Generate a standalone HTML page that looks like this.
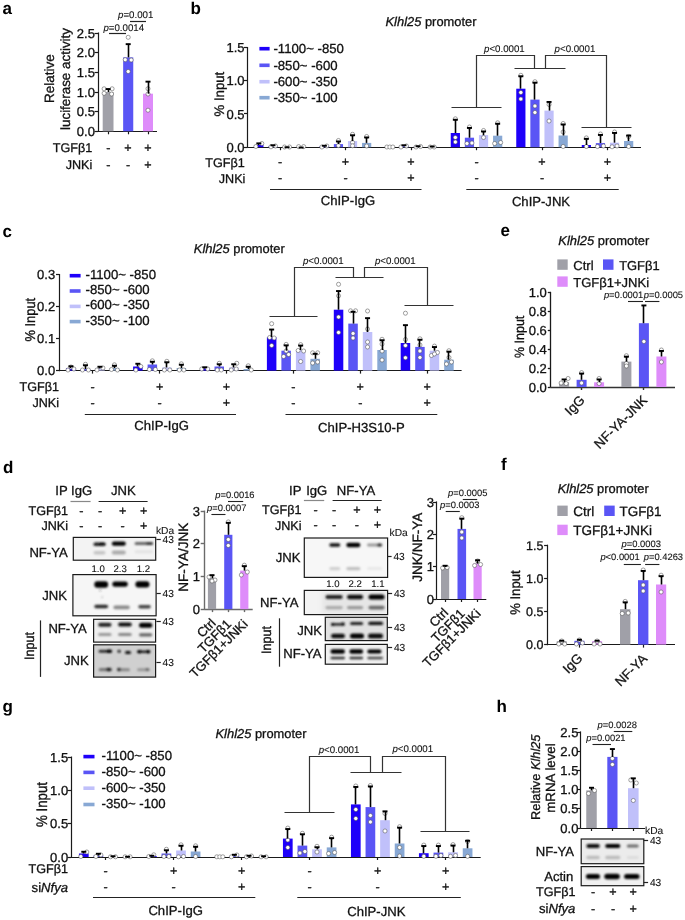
<!DOCTYPE html>
<html><head><meta charset="utf-8"><style>
html,body{margin:0;padding:0;background:#fff;}
svg{display:block;font-family:"Liberation Sans", sans-serif;will-change:transform;text-rendering:geometricPrecision;}
text{stroke:#111;stroke-width:0.3px;}
text.sm{stroke-width:0.1px;}
text.nb{stroke-width:0;}
</style></head><body>
<svg width="685" height="920" viewBox="0 0 685 920">
<defs><filter id="bl" x="-20%" y="-80%" width="140%" height="260%"><feGaussianBlur stdDeviation="0.8"/></filter><filter id="bl2" x="-20%" y="-20%" width="140%" height="140%"><feGaussianBlur stdDeviation="2.5"/></filter></defs>
<rect width="685" height="920" fill="#fff"/>
<text x="2.60" y="13.70" font-size="17.0" text-anchor="start" fill="#000" font-weight="bold" class="nb">a</text>
<line x1="98.50" y1="32.45" x2="98.50" y2="131.90" stroke="#1a1a1a" stroke-width="1.2"/>
<line x1="94.50" y1="131.50" x2="98.00" y2="131.50" stroke="#1a1a1a" stroke-width="1.2"/>
<text x="94.90" y="135.92" font-size="13.0" text-anchor="end" fill="#111" >0.0</text>
<line x1="94.50" y1="111.50" x2="98.00" y2="111.50" stroke="#1a1a1a" stroke-width="1.2"/>
<text x="94.90" y="116.27" font-size="13.0" text-anchor="end" fill="#111" >0.5</text>
<line x1="94.50" y1="92.50" x2="98.00" y2="92.50" stroke="#1a1a1a" stroke-width="1.2"/>
<text x="94.90" y="96.62" font-size="13.0" text-anchor="end" fill="#111" >1.0</text>
<line x1="94.50" y1="72.50" x2="98.00" y2="72.50" stroke="#1a1a1a" stroke-width="1.2"/>
<text x="94.90" y="76.97" font-size="13.0" text-anchor="end" fill="#111" >1.5</text>
<line x1="94.50" y1="52.50" x2="98.00" y2="52.50" stroke="#1a1a1a" stroke-width="1.2"/>
<text x="94.90" y="57.32" font-size="13.0" text-anchor="end" fill="#111" >2.0</text>
<line x1="94.50" y1="33.50" x2="98.00" y2="33.50" stroke="#1a1a1a" stroke-width="1.2"/>
<text x="94.90" y="37.67" font-size="13.0" text-anchor="end" fill="#111" >2.5</text>
<line x1="98.00" y1="131.50" x2="157.00" y2="131.50" stroke="#1a1a1a" stroke-width="1.2"/>
<line x1="108.50" y1="131.30" x2="108.50" y2="134.30" stroke="#1a1a1a" stroke-width="1.2"/>
<line x1="128.50" y1="131.30" x2="128.50" y2="134.30" stroke="#1a1a1a" stroke-width="1.2"/>
<line x1="148.50" y1="131.30" x2="148.50" y2="134.30" stroke="#1a1a1a" stroke-width="1.2"/>
<rect x="102.70" y="92.00" width="10.80" height="39.30" fill="#a0a0a8" />
<circle cx="104.10" cy="88.80" r="2.05" fill="#fff" stroke="#555" stroke-width="0.55"/>
<circle cx="112.10" cy="88.80" r="2.05" fill="#fff" stroke="#555" stroke-width="0.55"/>
<circle cx="104.10" cy="93.30" r="2.05" fill="#fff" stroke="#555" stroke-width="0.55"/>
<circle cx="111.60" cy="94.00" r="2.05" fill="#fff" stroke="#555" stroke-width="0.55"/>
<line x1="108.50" y1="92.00" x2="108.50" y2="88.80" stroke="#000" stroke-width="1.6"/>
<rect x="105.60" y="88.10" width="5.00" height="1.90" fill="#000" />
<rect x="123.15" y="57.40" width="10.10" height="73.90" fill="#5a55f5" />
<circle cx="128.20" cy="37.30" r="2.05" fill="#fff" stroke="#555" stroke-width="0.55"/>
<circle cx="125.20" cy="59.70" r="2.05" fill="#fff" stroke="#555" stroke-width="0.55"/>
<circle cx="131.20" cy="60.00" r="2.05" fill="#fff" stroke="#555" stroke-width="0.55"/>
<circle cx="128.20" cy="71.50" r="2.05" fill="#fff" stroke="#555" stroke-width="0.55"/>
<line x1="128.50" y1="57.40" x2="128.50" y2="43.90" stroke="#000" stroke-width="1.6"/>
<rect x="125.70" y="43.20" width="5.00" height="1.90" fill="#000" />
<rect x="143.00" y="93.70" width="10.00" height="37.60" fill="#de8cfa" />
<circle cx="148.00" cy="88.70" r="2.05" fill="#fff" stroke="#555" stroke-width="0.55"/>
<circle cx="148.00" cy="94.00" r="2.05" fill="#fff" stroke="#555" stroke-width="0.55"/>
<circle cx="148.00" cy="110.20" r="2.05" fill="#fff" stroke="#555" stroke-width="0.55"/>
<line x1="148.50" y1="93.70" x2="148.50" y2="81.40" stroke="#000" stroke-width="1.6"/>
<rect x="145.50" y="80.70" width="5.00" height="1.90" fill="#000" />
<line x1="109.00" y1="33.50" x2="126.00" y2="33.50" stroke="#222" stroke-width="1.2"/>
<line x1="130.00" y1="21.50" x2="146.00" y2="21.50" stroke="#222" stroke-width="1.2"/>
<text class="sm" x="103.40" y="31.20" font-size="9.7" text-anchor="start" fill="#111"><tspan font-style="italic">p</tspan>=0.0014</text>
<text class="sm" x="118.00" y="18.20" font-size="9.7" text-anchor="start" fill="#111"><tspan font-style="italic">p</tspan>=0.001</text>
<text x="54.40" y="78.70" font-size="13.5" text-anchor="middle" transform="rotate(-90 54.40 78.70)" fill="#111" >Relative</text>
<text x="69.80" y="79.00" font-size="13.4" text-anchor="middle" transform="rotate(-90 69.80 79.00)" fill="#111" >luciferase activity</text>
<text x="92.30" y="151.80" font-size="12.6" text-anchor="end" fill="#111" >TGFβ1</text>
<text x="92.30" y="169.30" font-size="12.6" text-anchor="end" fill="#111" >JNKi</text>
<text x="108.30" y="151.80" font-size="12.6" text-anchor="middle" fill="#111" >-</text>
<text x="128.00" y="151.80" font-size="12.6" text-anchor="middle" fill="#111" >+</text>
<text x="148.00" y="151.80" font-size="12.6" text-anchor="middle" fill="#111" >+</text>
<text x="108.30" y="169.30" font-size="12.6" text-anchor="middle" fill="#111" >-</text>
<text x="128.00" y="169.30" font-size="12.6" text-anchor="middle" fill="#111" >-</text>
<text x="148.00" y="169.30" font-size="12.6" text-anchor="middle" fill="#111" >+</text>
<text x="190.60" y="13.60" font-size="17.0" text-anchor="start" fill="#000" font-weight="bold" class="nb">b</text>
<line x1="247.50" y1="47.00" x2="247.50" y2="147.80" stroke="#1a1a1a" stroke-width="1.2"/>
<line x1="244.00" y1="147.50" x2="247.50" y2="147.50" stroke="#1a1a1a" stroke-width="1.2"/>
<text x="244.50" y="151.81" font-size="13.0" text-anchor="end" fill="#111" >0.0</text>
<line x1="244.00" y1="113.50" x2="247.50" y2="113.50" stroke="#1a1a1a" stroke-width="1.2"/>
<text x="244.50" y="118.61" font-size="13.0" text-anchor="end" fill="#111" >0.5</text>
<line x1="244.00" y1="80.50" x2="247.50" y2="80.50" stroke="#1a1a1a" stroke-width="1.2"/>
<text x="244.50" y="85.41" font-size="13.0" text-anchor="end" fill="#111" >1.0</text>
<line x1="244.00" y1="47.50" x2="247.50" y2="47.50" stroke="#1a1a1a" stroke-width="1.2"/>
<text x="244.50" y="52.21" font-size="13.0" text-anchor="end" fill="#111" >1.5</text>
<line x1="247.50" y1="147.50" x2="641.00" y2="147.50" stroke="#1a1a1a" stroke-width="1.2"/>
<line x1="280.50" y1="147.20" x2="280.50" y2="150.20" stroke="#1a1a1a" stroke-width="1.2"/>
<line x1="345.50" y1="147.20" x2="345.50" y2="150.20" stroke="#1a1a1a" stroke-width="1.2"/>
<line x1="411.50" y1="147.20" x2="411.50" y2="150.20" stroke="#1a1a1a" stroke-width="1.2"/>
<line x1="476.50" y1="147.20" x2="476.50" y2="150.20" stroke="#1a1a1a" stroke-width="1.2"/>
<line x1="542.50" y1="147.20" x2="542.50" y2="150.20" stroke="#1a1a1a" stroke-width="1.2"/>
<line x1="607.50" y1="147.20" x2="607.50" y2="150.20" stroke="#1a1a1a" stroke-width="1.2"/>
<text x="385.50" y="26.40" font-size="12.9" fill="#111"><tspan font-style="italic">Klhl25</tspan> promoter</text>
<rect x="259.40" y="46.90" width="10.20" height="3.60" fill="#1e00fa" />
<text x="273.40" y="52.95" font-size="13.2" text-anchor="start" fill="#111" >-1100~ -850</text>
<rect x="259.40" y="63.50" width="10.20" height="3.60" fill="#5a55f5" />
<text x="273.40" y="69.55" font-size="13.2" text-anchor="start" fill="#111" >-850~ -600</text>
<rect x="259.40" y="79.90" width="10.20" height="3.60" fill="#c0c0fa" />
<text x="273.40" y="85.95" font-size="13.2" text-anchor="start" fill="#111" >-600~ -350</text>
<rect x="259.40" y="95.90" width="10.20" height="3.60" fill="#88a8d4" />
<text x="273.40" y="101.95" font-size="13.2" text-anchor="start" fill="#111" >-350~ -100</text>
<text x="0" y="0" font-size="13.2" text-anchor="middle" transform="translate(223.70 94.10) rotate(-90) scale(1 1.046)" fill="#111">% Input</text>
<rect x="254.25" y="145.00" width="9.20" height="2.20" fill="#1e00fa" />
<circle cx="255.85" cy="146.50" r="2.05" fill="#fff" stroke="#555" stroke-width="0.55"/>
<circle cx="261.85" cy="143.50" r="2.05" fill="#fff" stroke="#555" stroke-width="0.55"/>
<line x1="258.50" y1="145.00" x2="258.50" y2="143.10" stroke="#000" stroke-width="1.6"/>
<rect x="256.35" y="142.40" width="5.00" height="1.90" fill="#000" />
<rect x="268.35" y="146.30" width="9.20" height="0.90" fill="#5a55f5" />
<circle cx="270.95" cy="146.80" r="2.05" fill="#fff" stroke="#555" stroke-width="0.55"/>
<circle cx="275.45" cy="146.00" r="2.05" fill="#fff" stroke="#555" stroke-width="0.55"/>
<line x1="272.50" y1="146.30" x2="272.50" y2="145.00" stroke="#000" stroke-width="1.6"/>
<rect x="270.45" y="144.30" width="5.00" height="1.90" fill="#000" />
<circle cx="284.55" cy="147.00" r="2.05" fill="#fff" stroke="#555" stroke-width="0.55"/>
<circle cx="289.55" cy="147.00" r="2.05" fill="#fff" stroke="#555" stroke-width="0.55"/>
<line x1="287.50" y1="147.20" x2="287.50" y2="147.00" stroke="#000" stroke-width="1.6"/>
<rect x="284.55" y="146.30" width="5.00" height="1.90" fill="#000" />
<circle cx="298.65" cy="146.60" r="2.05" fill="#fff" stroke="#555" stroke-width="0.55"/>
<circle cx="303.65" cy="146.60" r="2.05" fill="#fff" stroke="#555" stroke-width="0.55"/>
<line x1="301.50" y1="147.20" x2="301.50" y2="147.30" stroke="#000" stroke-width="1.6"/>
<rect x="298.65" y="146.60" width="5.00" height="1.90" fill="#000" />
<rect x="319.75" y="146.00" width="9.20" height="1.20" fill="#1e00fa" />
<circle cx="321.85" cy="147.00" r="2.05" fill="#fff" stroke="#555" stroke-width="0.55"/>
<circle cx="326.85" cy="146.00" r="2.05" fill="#fff" stroke="#555" stroke-width="0.55"/>
<line x1="324.50" y1="146.00" x2="324.50" y2="145.50" stroke="#000" stroke-width="1.6"/>
<rect x="321.85" y="144.80" width="5.00" height="1.90" fill="#000" />
<rect x="333.85" y="144.10" width="9.20" height="3.10" fill="#5a55f5" />
<circle cx="338.45" cy="140.50" r="2.05" fill="#fff" stroke="#555" stroke-width="0.55"/>
<circle cx="338.45" cy="145.60" r="2.05" fill="#fff" stroke="#555" stroke-width="0.55"/>
<line x1="338.50" y1="144.10" x2="338.50" y2="141.20" stroke="#000" stroke-width="1.6"/>
<rect x="335.95" y="140.50" width="5.00" height="1.90" fill="#000" />
<rect x="347.95" y="141.10" width="9.20" height="6.10" fill="#c0c0fa" />
<circle cx="352.55" cy="134.30" r="2.05" fill="#fff" stroke="#555" stroke-width="0.55"/>
<circle cx="352.55" cy="142.50" r="2.05" fill="#fff" stroke="#555" stroke-width="0.55"/>
<circle cx="352.55" cy="145.80" r="2.05" fill="#fff" stroke="#555" stroke-width="0.55"/>
<line x1="352.50" y1="141.10" x2="352.50" y2="135.00" stroke="#000" stroke-width="1.6"/>
<rect x="350.05" y="134.30" width="5.00" height="1.90" fill="#000" />
<rect x="362.05" y="142.90" width="9.20" height="4.30" fill="#88a8d4" />
<circle cx="366.65" cy="136.50" r="2.05" fill="#fff" stroke="#555" stroke-width="0.55"/>
<circle cx="366.65" cy="146.00" r="2.05" fill="#fff" stroke="#555" stroke-width="0.55"/>
<line x1="366.50" y1="142.90" x2="366.50" y2="137.20" stroke="#000" stroke-width="1.6"/>
<rect x="364.15" y="136.50" width="5.00" height="1.90" fill="#000" />
<circle cx="386.85" cy="147.00" r="2.05" fill="#fff" stroke="#555" stroke-width="0.55"/>
<circle cx="389.85" cy="147.00" r="2.05" fill="#fff" stroke="#555" stroke-width="0.55"/>
<circle cx="392.85" cy="147.00" r="2.05" fill="#fff" stroke="#555" stroke-width="0.55"/>
<rect x="399.35" y="146.00" width="9.20" height="1.20" fill="#5a55f5" />
<circle cx="400.95" cy="147.00" r="2.05" fill="#fff" stroke="#555" stroke-width="0.55"/>
<circle cx="406.45" cy="146.00" r="2.05" fill="#fff" stroke="#555" stroke-width="0.55"/>
<line x1="403.50" y1="146.00" x2="403.50" y2="145.00" stroke="#000" stroke-width="1.6"/>
<rect x="401.45" y="144.30" width="5.00" height="1.90" fill="#000" />
<rect x="413.45" y="146.50" width="9.20" height="0.70" fill="#c0c0fa" />
<circle cx="416.05" cy="147.00" r="2.05" fill="#fff" stroke="#555" stroke-width="0.55"/>
<circle cx="420.55" cy="146.50" r="2.05" fill="#fff" stroke="#555" stroke-width="0.55"/>
<line x1="418.50" y1="146.50" x2="418.50" y2="146.00" stroke="#000" stroke-width="1.6"/>
<rect x="415.55" y="145.30" width="5.00" height="1.90" fill="#000" />
<rect x="427.55" y="146.60" width="9.20" height="0.60" fill="#88a8d4" />
<circle cx="430.15" cy="147.00" r="2.05" fill="#fff" stroke="#555" stroke-width="0.55"/>
<circle cx="434.15" cy="147.00" r="2.05" fill="#fff" stroke="#555" stroke-width="0.55"/>
<line x1="432.50" y1="146.60" x2="432.50" y2="146.30" stroke="#000" stroke-width="1.6"/>
<rect x="429.65" y="145.60" width="5.00" height="1.90" fill="#000" />
<rect x="450.75" y="133.00" width="9.20" height="14.20" fill="#1e00fa" />
<circle cx="455.35" cy="118.80" r="2.05" fill="#fff" stroke="#555" stroke-width="0.55"/>
<circle cx="455.35" cy="137.50" r="2.05" fill="#fff" stroke="#555" stroke-width="0.55"/>
<circle cx="455.35" cy="142.00" r="2.05" fill="#fff" stroke="#555" stroke-width="0.55"/>
<line x1="455.50" y1="133.00" x2="455.50" y2="119.50" stroke="#000" stroke-width="1.6"/>
<rect x="452.85" y="118.80" width="5.00" height="1.90" fill="#000" />
<rect x="464.85" y="137.70" width="9.20" height="9.50" fill="#5a55f5" />
<circle cx="469.45" cy="127.00" r="2.05" fill="#fff" stroke="#555" stroke-width="0.55"/>
<circle cx="466.95" cy="143.50" r="2.05" fill="#fff" stroke="#555" stroke-width="0.55"/>
<circle cx="471.95" cy="143.00" r="2.05" fill="#fff" stroke="#555" stroke-width="0.55"/>
<line x1="469.50" y1="137.70" x2="469.50" y2="127.70" stroke="#000" stroke-width="1.6"/>
<rect x="466.95" y="127.00" width="5.00" height="1.90" fill="#000" />
<rect x="478.95" y="135.10" width="9.20" height="12.10" fill="#c0c0fa" />
<circle cx="483.55" cy="130.50" r="2.05" fill="#fff" stroke="#555" stroke-width="0.55"/>
<circle cx="483.55" cy="137.50" r="2.05" fill="#fff" stroke="#555" stroke-width="0.55"/>
<line x1="483.50" y1="135.10" x2="483.50" y2="131.20" stroke="#000" stroke-width="1.6"/>
<rect x="481.05" y="130.50" width="5.00" height="1.90" fill="#000" />
<rect x="493.05" y="135.70" width="9.20" height="11.50" fill="#88a8d4" />
<circle cx="497.65" cy="122.80" r="2.05" fill="#fff" stroke="#555" stroke-width="0.55"/>
<circle cx="494.65" cy="143.50" r="2.05" fill="#fff" stroke="#555" stroke-width="0.55"/>
<circle cx="500.65" cy="142.50" r="2.05" fill="#fff" stroke="#555" stroke-width="0.55"/>
<line x1="497.50" y1="135.70" x2="497.50" y2="123.50" stroke="#000" stroke-width="1.6"/>
<rect x="495.15" y="122.80" width="5.00" height="1.90" fill="#000" />
<rect x="516.25" y="88.70" width="9.20" height="58.50" fill="#1e00fa" />
<circle cx="520.85" cy="75.30" r="2.05" fill="#fff" stroke="#555" stroke-width="0.55"/>
<circle cx="520.85" cy="92.50" r="2.05" fill="#fff" stroke="#555" stroke-width="0.55"/>
<circle cx="520.85" cy="99.00" r="2.05" fill="#fff" stroke="#555" stroke-width="0.55"/>
<line x1="520.50" y1="88.70" x2="520.50" y2="76.00" stroke="#000" stroke-width="1.6"/>
<rect x="518.35" y="75.30" width="5.00" height="1.90" fill="#000" />
<rect x="530.35" y="99.60" width="9.20" height="47.60" fill="#5a55f5" />
<circle cx="534.95" cy="81.70" r="2.05" fill="#fff" stroke="#555" stroke-width="0.55"/>
<circle cx="534.95" cy="106.00" r="2.05" fill="#fff" stroke="#555" stroke-width="0.55"/>
<circle cx="534.95" cy="112.50" r="2.05" fill="#fff" stroke="#555" stroke-width="0.55"/>
<line x1="534.50" y1="99.60" x2="534.50" y2="82.40" stroke="#000" stroke-width="1.6"/>
<rect x="532.45" y="81.70" width="5.00" height="1.90" fill="#000" />
<rect x="544.45" y="110.60" width="9.20" height="36.60" fill="#c0c0fa" />
<circle cx="549.05" cy="104.50" r="2.05" fill="#fff" stroke="#555" stroke-width="0.55"/>
<circle cx="549.05" cy="121.00" r="2.05" fill="#fff" stroke="#555" stroke-width="0.55"/>
<line x1="549.50" y1="110.60" x2="549.50" y2="101.70" stroke="#000" stroke-width="1.6"/>
<rect x="546.55" y="101.00" width="5.00" height="1.90" fill="#000" />
<rect x="558.55" y="135.50" width="9.20" height="11.70" fill="#88a8d4" />
<circle cx="563.15" cy="123.50" r="2.05" fill="#fff" stroke="#555" stroke-width="0.55"/>
<circle cx="563.15" cy="132.00" r="2.05" fill="#fff" stroke="#555" stroke-width="0.55"/>
<circle cx="563.15" cy="146.50" r="2.05" fill="#fff" stroke="#555" stroke-width="0.55"/>
<line x1="563.50" y1="135.50" x2="563.50" y2="124.20" stroke="#000" stroke-width="1.6"/>
<rect x="560.65" y="123.50" width="5.00" height="1.90" fill="#000" />
<rect x="581.75" y="145.00" width="9.20" height="2.20" fill="#1e00fa" />
<circle cx="586.35" cy="137.90" r="2.05" fill="#fff" stroke="#555" stroke-width="0.55"/>
<circle cx="586.35" cy="146.50" r="2.05" fill="#fff" stroke="#555" stroke-width="0.55"/>
<line x1="586.50" y1="145.00" x2="586.50" y2="138.60" stroke="#000" stroke-width="1.6"/>
<rect x="583.85" y="137.90" width="5.00" height="1.90" fill="#000" />
<rect x="595.85" y="143.10" width="9.20" height="4.10" fill="#5a55f5" />
<circle cx="600.45" cy="134.00" r="2.05" fill="#fff" stroke="#555" stroke-width="0.55"/>
<circle cx="597.45" cy="146.50" r="2.05" fill="#fff" stroke="#555" stroke-width="0.55"/>
<circle cx="603.45" cy="146.00" r="2.05" fill="#fff" stroke="#555" stroke-width="0.55"/>
<line x1="600.50" y1="143.10" x2="600.50" y2="134.70" stroke="#000" stroke-width="1.6"/>
<rect x="597.95" y="134.00" width="5.00" height="1.90" fill="#000" />
<rect x="609.95" y="142.70" width="9.20" height="4.50" fill="#c0c0fa" />
<circle cx="614.55" cy="132.00" r="2.05" fill="#fff" stroke="#555" stroke-width="0.55"/>
<circle cx="612.05" cy="146.80" r="2.05" fill="#fff" stroke="#555" stroke-width="0.55"/>
<circle cx="617.05" cy="146.00" r="2.05" fill="#fff" stroke="#555" stroke-width="0.55"/>
<line x1="614.50" y1="142.70" x2="614.50" y2="132.70" stroke="#000" stroke-width="1.6"/>
<rect x="612.05" y="132.00" width="5.00" height="1.90" fill="#000" />
<rect x="624.05" y="141.00" width="9.20" height="6.20" fill="#88a8d4" />
<circle cx="628.65" cy="136.50" r="2.05" fill="#fff" stroke="#555" stroke-width="0.55"/>
<circle cx="628.65" cy="146.50" r="2.05" fill="#fff" stroke="#555" stroke-width="0.55"/>
<line x1="628.50" y1="141.00" x2="628.50" y2="135.30" stroke="#000" stroke-width="1.6"/>
<rect x="626.15" y="134.60" width="5.00" height="1.90" fill="#000" />
<polyline points="451.50,107.50 501.50,107.50" fill="none" stroke="#333" stroke-width="1.2"/>
<polyline points="476.50,107.50 476.50,55.50 534.50,55.50 534.50,68.50" fill="none" stroke="#333" stroke-width="1.2"/>
<polyline points="514.50,68.50 565.50,68.50" fill="none" stroke="#333" stroke-width="1.2"/>
<polyline points="545.50,68.50 545.50,55.50 606.50,55.50 606.50,127.50" fill="none" stroke="#333" stroke-width="1.2"/>
<polyline points="581.50,127.50 631.50,127.50" fill="none" stroke="#333" stroke-width="1.2"/>
<text class="sm" x="484.00" y="51.60" font-size="9.7" text-anchor="start" fill="#111"><tspan font-style="italic">p</tspan>&lt;0.0001</text>
<text class="sm" x="554.60" y="51.60" font-size="9.7" text-anchor="start" fill="#111"><tspan font-style="italic">p</tspan>&lt;0.0001</text>
<text x="244.80" y="166.80" font-size="12.6" text-anchor="end" fill="#111" >TGFβ1</text>
<text x="245.40" y="182.80" font-size="12.6" text-anchor="end" fill="#111" >JNKi</text>
<text x="280.00" y="165.70" font-size="12.6" text-anchor="middle" fill="#111" >-</text>
<text x="280.00" y="181.70" font-size="12.6" text-anchor="middle" fill="#111" >-</text>
<text x="345.50" y="165.70" font-size="12.6" text-anchor="middle" fill="#111" >+</text>
<text x="345.50" y="181.70" font-size="12.6" text-anchor="middle" fill="#111" >-</text>
<text x="411.00" y="165.70" font-size="12.6" text-anchor="middle" fill="#111" >+</text>
<text x="411.00" y="181.70" font-size="12.6" text-anchor="middle" fill="#111" >+</text>
<text x="476.50" y="165.70" font-size="12.6" text-anchor="middle" fill="#111" >-</text>
<text x="476.50" y="181.70" font-size="12.6" text-anchor="middle" fill="#111" >-</text>
<text x="542.00" y="165.70" font-size="12.6" text-anchor="middle" fill="#111" >+</text>
<text x="542.00" y="181.70" font-size="12.6" text-anchor="middle" fill="#111" >-</text>
<text x="607.50" y="165.70" font-size="12.6" text-anchor="middle" fill="#111" >+</text>
<text x="607.50" y="181.70" font-size="12.6" text-anchor="middle" fill="#111" >+</text>
<line x1="270.00" y1="189.50" x2="421.50" y2="189.50" stroke="#222" stroke-width="1.2"/>
<line x1="466.30" y1="189.50" x2="618.70" y2="189.50" stroke="#222" stroke-width="1.2"/>
<text x="348.00" y="205.30" font-size="13.1" text-anchor="middle" fill="#111" >ChIP-IgG</text>
<text x="541.00" y="205.50" font-size="13.1" text-anchor="middle" fill="#111" >ChIP-JNK</text>
<text x="2.60" y="236.60" font-size="17.0" text-anchor="start" fill="#000" font-weight="bold" class="nb">c</text>
<line x1="59.50" y1="274.00" x2="59.50" y2="371.20" stroke="#1a1a1a" stroke-width="1.2"/>
<line x1="56.00" y1="370.50" x2="59.50" y2="370.50" stroke="#1a1a1a" stroke-width="1.2"/>
<text x="55.20" y="375.22" font-size="13.0" text-anchor="end" fill="#111" >0.0</text>
<line x1="56.00" y1="338.50" x2="59.50" y2="338.50" stroke="#1a1a1a" stroke-width="1.2"/>
<text x="55.20" y="343.22" font-size="13.0" text-anchor="end" fill="#111" >0.1</text>
<line x1="56.00" y1="306.50" x2="59.50" y2="306.50" stroke="#1a1a1a" stroke-width="1.2"/>
<text x="55.20" y="311.22" font-size="13.0" text-anchor="end" fill="#111" >0.2</text>
<line x1="56.00" y1="274.50" x2="59.50" y2="274.50" stroke="#1a1a1a" stroke-width="1.2"/>
<text x="55.20" y="279.22" font-size="13.0" text-anchor="end" fill="#111" >0.3</text>
<line x1="59.50" y1="370.50" x2="461.60" y2="370.50" stroke="#1a1a1a" stroke-width="1.2"/>
<line x1="92.50" y1="370.60" x2="92.50" y2="373.60" stroke="#1a1a1a" stroke-width="1.2"/>
<line x1="159.50" y1="370.60" x2="159.50" y2="373.60" stroke="#1a1a1a" stroke-width="1.2"/>
<line x1="226.50" y1="370.60" x2="226.50" y2="373.60" stroke="#1a1a1a" stroke-width="1.2"/>
<line x1="293.50" y1="370.60" x2="293.50" y2="373.60" stroke="#1a1a1a" stroke-width="1.2"/>
<line x1="360.50" y1="370.60" x2="360.50" y2="373.60" stroke="#1a1a1a" stroke-width="1.2"/>
<line x1="427.50" y1="370.60" x2="427.50" y2="373.60" stroke="#1a1a1a" stroke-width="1.2"/>
<text x="193.80" y="253.00" font-size="12.9" fill="#111"><tspan font-style="italic">Klhl25</tspan> promoter</text>
<rect x="69.70" y="273.90" width="10.90" height="3.60" fill="#1e00fa" />
<text x="85.50" y="278.65" font-size="13.2" text-anchor="start" fill="#111" >-1100~ -850</text>
<rect x="69.70" y="289.20" width="10.90" height="3.60" fill="#5a55f5" />
<text x="85.50" y="293.95" font-size="13.2" text-anchor="start" fill="#111" >-850~ -600</text>
<rect x="69.70" y="304.60" width="10.90" height="3.60" fill="#c0c0fa" />
<text x="85.50" y="309.35" font-size="13.2" text-anchor="start" fill="#111" >-600~ -350</text>
<rect x="69.70" y="319.80" width="10.90" height="3.60" fill="#88a8d4" />
<text x="85.50" y="324.55" font-size="13.2" text-anchor="start" fill="#111" >-350~ -100</text>
<text x="0" y="0" font-size="12.9" text-anchor="middle" transform="translate(34.90 319.70) rotate(-90) scale(1 1.100)" fill="#111">% Input</text>
<rect x="66.20" y="368.00" width="9.50" height="2.60" fill="#1e00fa" />
<circle cx="70.95" cy="367.00" r="2.05" fill="#fff" stroke="#555" stroke-width="0.55"/>
<circle cx="67.95" cy="370.00" r="2.05" fill="#fff" stroke="#555" stroke-width="0.55"/>
<circle cx="73.95" cy="369.00" r="2.05" fill="#fff" stroke="#555" stroke-width="0.55"/>
<line x1="70.50" y1="368.00" x2="70.50" y2="366.00" stroke="#000" stroke-width="1.6"/>
<rect x="68.45" y="365.30" width="5.00" height="1.90" fill="#000" />
<rect x="80.70" y="369.00" width="9.50" height="1.60" fill="#5a55f5" />
<circle cx="85.45" cy="364.30" r="2.05" fill="#fff" stroke="#555" stroke-width="0.55"/>
<circle cx="82.45" cy="370.00" r="2.05" fill="#fff" stroke="#555" stroke-width="0.55"/>
<circle cx="88.45" cy="370.00" r="2.05" fill="#fff" stroke="#555" stroke-width="0.55"/>
<line x1="85.50" y1="369.00" x2="85.50" y2="365.00" stroke="#000" stroke-width="1.6"/>
<rect x="82.95" y="364.30" width="5.00" height="1.90" fill="#000" />
<rect x="95.20" y="368.50" width="9.50" height="2.10" fill="#c0c0fa" />
<circle cx="96.95" cy="370.00" r="2.05" fill="#fff" stroke="#555" stroke-width="0.55"/>
<circle cx="102.95" cy="368.00" r="2.05" fill="#fff" stroke="#555" stroke-width="0.55"/>
<line x1="99.50" y1="368.50" x2="99.50" y2="366.50" stroke="#000" stroke-width="1.6"/>
<rect x="97.45" y="365.80" width="5.00" height="1.90" fill="#000" />
<rect x="109.70" y="368.00" width="9.50" height="2.60" fill="#88a8d4" />
<circle cx="114.45" cy="364.80" r="2.05" fill="#fff" stroke="#555" stroke-width="0.55"/>
<circle cx="111.45" cy="369.50" r="2.05" fill="#fff" stroke="#555" stroke-width="0.55"/>
<circle cx="117.45" cy="370.00" r="2.05" fill="#fff" stroke="#555" stroke-width="0.55"/>
<line x1="114.50" y1="368.00" x2="114.50" y2="365.50" stroke="#000" stroke-width="1.6"/>
<rect x="111.95" y="364.80" width="5.00" height="1.90" fill="#000" />
<rect x="133.10" y="366.50" width="9.50" height="4.10" fill="#1e00fa" />
<circle cx="135.85" cy="370.00" r="2.05" fill="#fff" stroke="#555" stroke-width="0.55"/>
<circle cx="140.85" cy="366.50" r="2.05" fill="#fff" stroke="#555" stroke-width="0.55"/>
<line x1="137.50" y1="366.50" x2="137.50" y2="363.50" stroke="#000" stroke-width="1.6"/>
<rect x="135.35" y="362.80" width="5.00" height="1.90" fill="#000" />
<rect x="147.60" y="364.50" width="9.50" height="6.10" fill="#5a55f5" />
<circle cx="152.35" cy="360.80" r="2.05" fill="#fff" stroke="#555" stroke-width="0.55"/>
<circle cx="149.35" cy="369.50" r="2.05" fill="#fff" stroke="#555" stroke-width="0.55"/>
<circle cx="155.35" cy="369.50" r="2.05" fill="#fff" stroke="#555" stroke-width="0.55"/>
<line x1="152.50" y1="364.50" x2="152.50" y2="361.50" stroke="#000" stroke-width="1.6"/>
<rect x="149.85" y="360.80" width="5.00" height="1.90" fill="#000" />
<rect x="162.10" y="367.50" width="9.50" height="3.10" fill="#c0c0fa" />
<circle cx="166.85" cy="361.30" r="2.05" fill="#fff" stroke="#555" stroke-width="0.55"/>
<circle cx="164.35" cy="370.00" r="2.05" fill="#fff" stroke="#555" stroke-width="0.55"/>
<circle cx="169.85" cy="370.00" r="2.05" fill="#fff" stroke="#555" stroke-width="0.55"/>
<line x1="166.50" y1="367.50" x2="166.50" y2="362.00" stroke="#000" stroke-width="1.6"/>
<rect x="164.35" y="361.30" width="5.00" height="1.90" fill="#000" />
<rect x="176.60" y="368.00" width="9.50" height="2.60" fill="#88a8d4" />
<circle cx="181.35" cy="363.80" r="2.05" fill="#fff" stroke="#555" stroke-width="0.55"/>
<circle cx="179.35" cy="370.00" r="2.05" fill="#fff" stroke="#555" stroke-width="0.55"/>
<circle cx="183.85" cy="370.00" r="2.05" fill="#fff" stroke="#555" stroke-width="0.55"/>
<line x1="181.50" y1="368.00" x2="181.50" y2="364.50" stroke="#000" stroke-width="1.6"/>
<rect x="178.85" y="363.80" width="5.00" height="1.90" fill="#000" />
<rect x="200.00" y="368.50" width="9.50" height="2.10" fill="#1e00fa" />
<circle cx="201.75" cy="369.00" r="2.05" fill="#fff" stroke="#555" stroke-width="0.55"/>
<circle cx="207.75" cy="369.00" r="2.05" fill="#fff" stroke="#555" stroke-width="0.55"/>
<line x1="204.50" y1="368.50" x2="204.50" y2="367.00" stroke="#000" stroke-width="1.6"/>
<rect x="202.25" y="366.30" width="5.00" height="1.90" fill="#000" />
<rect x="214.50" y="366.50" width="9.50" height="4.10" fill="#5a55f5" />
<circle cx="219.25" cy="363.30" r="2.05" fill="#fff" stroke="#555" stroke-width="0.55"/>
<circle cx="217.25" cy="370.00" r="2.05" fill="#fff" stroke="#555" stroke-width="0.55"/>
<circle cx="221.25" cy="370.00" r="2.05" fill="#fff" stroke="#555" stroke-width="0.55"/>
<line x1="219.50" y1="366.50" x2="219.50" y2="364.00" stroke="#000" stroke-width="1.6"/>
<rect x="216.75" y="363.30" width="5.00" height="1.90" fill="#000" />
<rect x="229.00" y="367.50" width="9.50" height="3.10" fill="#c0c0fa" />
<circle cx="236.75" cy="363.30" r="2.05" fill="#fff" stroke="#555" stroke-width="0.55"/>
<circle cx="231.25" cy="370.00" r="2.05" fill="#fff" stroke="#555" stroke-width="0.55"/>
<circle cx="236.25" cy="369.00" r="2.05" fill="#fff" stroke="#555" stroke-width="0.55"/>
<line x1="233.50" y1="367.50" x2="233.50" y2="364.00" stroke="#000" stroke-width="1.6"/>
<rect x="231.25" y="363.30" width="5.00" height="1.90" fill="#000" />
<rect x="243.50" y="369.00" width="9.50" height="1.60" fill="#88a8d4" />
<circle cx="248.25" cy="365.80" r="2.05" fill="#fff" stroke="#555" stroke-width="0.55"/>
<circle cx="251.25" cy="370.00" r="2.05" fill="#fff" stroke="#555" stroke-width="0.55"/>
<line x1="248.50" y1="369.00" x2="248.50" y2="366.50" stroke="#000" stroke-width="1.6"/>
<rect x="245.75" y="365.80" width="5.00" height="1.90" fill="#000" />
<rect x="266.90" y="337.20" width="9.50" height="33.40" fill="#1e00fa" />
<circle cx="271.65" cy="323.70" r="2.05" fill="#fff" stroke="#555" stroke-width="0.55"/>
<circle cx="269.65" cy="337.50" r="2.05" fill="#fff" stroke="#555" stroke-width="0.55"/>
<circle cx="274.15" cy="338.00" r="2.05" fill="#fff" stroke="#555" stroke-width="0.55"/>
<circle cx="271.65" cy="345.50" r="2.05" fill="#fff" stroke="#555" stroke-width="0.55"/>
<line x1="271.50" y1="337.20" x2="271.50" y2="329.30" stroke="#000" stroke-width="1.6"/>
<rect x="269.15" y="328.60" width="5.00" height="1.90" fill="#000" />
<rect x="281.40" y="350.70" width="9.50" height="19.90" fill="#5a55f5" />
<circle cx="286.15" cy="344.40" r="2.05" fill="#fff" stroke="#555" stroke-width="0.55"/>
<circle cx="283.65" cy="356.50" r="2.05" fill="#fff" stroke="#555" stroke-width="0.55"/>
<circle cx="288.65" cy="354.50" r="2.05" fill="#fff" stroke="#555" stroke-width="0.55"/>
<circle cx="286.15" cy="351.00" r="2.05" fill="#fff" stroke="#555" stroke-width="0.55"/>
<line x1="286.50" y1="350.70" x2="286.50" y2="345.10" stroke="#000" stroke-width="1.6"/>
<rect x="283.65" y="344.40" width="5.00" height="1.90" fill="#000" />
<rect x="295.90" y="350.00" width="9.50" height="20.60" fill="#c0c0fa" />
<circle cx="300.65" cy="344.60" r="2.05" fill="#fff" stroke="#555" stroke-width="0.55"/>
<circle cx="298.15" cy="350.50" r="2.05" fill="#fff" stroke="#555" stroke-width="0.55"/>
<circle cx="303.65" cy="351.00" r="2.05" fill="#fff" stroke="#555" stroke-width="0.55"/>
<circle cx="300.65" cy="361.50" r="2.05" fill="#fff" stroke="#555" stroke-width="0.55"/>
<line x1="300.50" y1="350.00" x2="300.50" y2="345.30" stroke="#000" stroke-width="1.6"/>
<rect x="298.15" y="344.60" width="5.00" height="1.90" fill="#000" />
<rect x="310.40" y="358.80" width="9.50" height="11.80" fill="#88a8d4" />
<circle cx="312.65" cy="352.80" r="2.05" fill="#fff" stroke="#555" stroke-width="0.55"/>
<circle cx="317.65" cy="352.80" r="2.05" fill="#fff" stroke="#555" stroke-width="0.55"/>
<circle cx="312.65" cy="363.00" r="2.05" fill="#fff" stroke="#555" stroke-width="0.55"/>
<circle cx="317.65" cy="362.00" r="2.05" fill="#fff" stroke="#555" stroke-width="0.55"/>
<line x1="315.50" y1="358.80" x2="315.50" y2="353.50" stroke="#000" stroke-width="1.6"/>
<rect x="312.65" y="352.80" width="5.00" height="1.90" fill="#000" />
<rect x="333.80" y="309.70" width="9.50" height="60.90" fill="#1e00fa" />
<circle cx="338.55" cy="284.30" r="2.05" fill="#fff" stroke="#555" stroke-width="0.55"/>
<circle cx="338.55" cy="295.80" r="2.05" fill="#fff" stroke="#555" stroke-width="0.55"/>
<circle cx="338.55" cy="317.00" r="2.05" fill="#fff" stroke="#555" stroke-width="0.55"/>
<circle cx="338.55" cy="332.50" r="2.05" fill="#fff" stroke="#555" stroke-width="0.55"/>
<line x1="338.50" y1="309.70" x2="338.50" y2="290.80" stroke="#000" stroke-width="1.6"/>
<rect x="336.05" y="290.10" width="5.00" height="1.90" fill="#000" />
<rect x="348.30" y="323.60" width="9.50" height="47.00" fill="#5a55f5" />
<circle cx="350.55" cy="310.80" r="2.05" fill="#fff" stroke="#555" stroke-width="0.55"/>
<circle cx="355.55" cy="310.80" r="2.05" fill="#fff" stroke="#555" stroke-width="0.55"/>
<circle cx="353.05" cy="333.50" r="2.05" fill="#fff" stroke="#555" stroke-width="0.55"/>
<circle cx="353.05" cy="338.00" r="2.05" fill="#fff" stroke="#555" stroke-width="0.55"/>
<line x1="353.50" y1="323.60" x2="353.50" y2="311.50" stroke="#000" stroke-width="1.6"/>
<rect x="350.55" y="310.80" width="5.00" height="1.90" fill="#000" />
<rect x="362.80" y="332.00" width="9.50" height="38.60" fill="#c0c0fa" />
<circle cx="367.55" cy="311.00" r="2.05" fill="#fff" stroke="#555" stroke-width="0.55"/>
<circle cx="367.55" cy="329.00" r="2.05" fill="#fff" stroke="#555" stroke-width="0.55"/>
<circle cx="367.55" cy="342.00" r="2.05" fill="#fff" stroke="#555" stroke-width="0.55"/>
<circle cx="367.55" cy="347.00" r="2.05" fill="#fff" stroke="#555" stroke-width="0.55"/>
<line x1="367.50" y1="332.00" x2="367.50" y2="317.90" stroke="#000" stroke-width="1.6"/>
<rect x="365.05" y="317.20" width="5.00" height="1.90" fill="#000" />
<rect x="377.30" y="350.00" width="9.50" height="20.60" fill="#88a8d4" />
<circle cx="382.05" cy="339.30" r="2.05" fill="#fff" stroke="#555" stroke-width="0.55"/>
<circle cx="382.05" cy="344.00" r="2.05" fill="#fff" stroke="#555" stroke-width="0.55"/>
<circle cx="382.05" cy="351.00" r="2.05" fill="#fff" stroke="#555" stroke-width="0.55"/>
<circle cx="382.05" cy="360.00" r="2.05" fill="#fff" stroke="#555" stroke-width="0.55"/>
<line x1="382.50" y1="350.00" x2="382.50" y2="340.00" stroke="#000" stroke-width="1.6"/>
<rect x="379.55" y="339.30" width="5.00" height="1.90" fill="#000" />
<rect x="400.70" y="343.00" width="9.50" height="27.60" fill="#1e00fa" />
<circle cx="405.45" cy="313.20" r="2.05" fill="#fff" stroke="#555" stroke-width="0.55"/>
<circle cx="405.45" cy="339.50" r="2.05" fill="#fff" stroke="#555" stroke-width="0.55"/>
<circle cx="405.45" cy="345.50" r="2.05" fill="#fff" stroke="#555" stroke-width="0.55"/>
<circle cx="405.45" cy="357.80" r="2.05" fill="#fff" stroke="#555" stroke-width="0.55"/>
<line x1="405.50" y1="343.00" x2="405.50" y2="324.90" stroke="#000" stroke-width="1.6"/>
<rect x="402.95" y="324.20" width="5.00" height="1.90" fill="#000" />
<rect x="415.20" y="346.90" width="9.50" height="23.70" fill="#5a55f5" />
<circle cx="419.95" cy="338.80" r="2.05" fill="#fff" stroke="#555" stroke-width="0.55"/>
<circle cx="419.95" cy="345.00" r="2.05" fill="#fff" stroke="#555" stroke-width="0.55"/>
<circle cx="419.95" cy="351.00" r="2.05" fill="#fff" stroke="#555" stroke-width="0.55"/>
<circle cx="419.95" cy="357.50" r="2.05" fill="#fff" stroke="#555" stroke-width="0.55"/>
<line x1="419.50" y1="346.90" x2="419.50" y2="339.50" stroke="#000" stroke-width="1.6"/>
<rect x="417.45" y="338.80" width="5.00" height="1.90" fill="#000" />
<rect x="429.70" y="350.70" width="9.50" height="19.90" fill="#c0c0fa" />
<circle cx="434.45" cy="346.10" r="2.05" fill="#fff" stroke="#555" stroke-width="0.55"/>
<circle cx="431.45" cy="355.50" r="2.05" fill="#fff" stroke="#555" stroke-width="0.55"/>
<circle cx="437.45" cy="352.50" r="2.05" fill="#fff" stroke="#555" stroke-width="0.55"/>
<circle cx="434.45" cy="354.00" r="2.05" fill="#fff" stroke="#555" stroke-width="0.55"/>
<line x1="434.50" y1="350.70" x2="434.50" y2="346.80" stroke="#000" stroke-width="1.6"/>
<rect x="431.95" y="346.10" width="5.00" height="1.90" fill="#000" />
<rect x="444.20" y="359.70" width="9.50" height="10.90" fill="#88a8d4" />
<circle cx="448.95" cy="350.70" r="2.05" fill="#fff" stroke="#555" stroke-width="0.55"/>
<circle cx="448.95" cy="357.50" r="2.05" fill="#fff" stroke="#555" stroke-width="0.55"/>
<circle cx="446.45" cy="364.00" r="2.05" fill="#fff" stroke="#555" stroke-width="0.55"/>
<circle cx="451.45" cy="362.00" r="2.05" fill="#fff" stroke="#555" stroke-width="0.55"/>
<line x1="448.50" y1="359.70" x2="448.50" y2="351.40" stroke="#000" stroke-width="1.6"/>
<rect x="446.45" y="350.70" width="5.00" height="1.90" fill="#000" />
<polyline points="269.50,316.50 317.50,316.50" fill="none" stroke="#333" stroke-width="1.2"/>
<polyline points="294.50,316.50 294.50,267.50 353.50,267.50 353.50,277.50" fill="none" stroke="#333" stroke-width="1.2"/>
<polyline points="335.50,277.50 383.50,277.50" fill="none" stroke="#333" stroke-width="1.2"/>
<polyline points="364.50,277.50 364.50,267.50 427.50,267.50 427.50,305.50" fill="none" stroke="#333" stroke-width="1.2"/>
<polyline points="404.50,305.50 453.50,305.50" fill="none" stroke="#333" stroke-width="1.2"/>
<text class="sm" x="302.90" y="264.00" font-size="9.7" text-anchor="start" fill="#111"><tspan font-style="italic">p</tspan>&lt;0.0001</text>
<text class="sm" x="374.90" y="264.00" font-size="9.7" text-anchor="start" fill="#111"><tspan font-style="italic">p</tspan>&lt;0.0001</text>
<text x="59.00" y="391.00" font-size="12.6" text-anchor="end" fill="#111" >TGFβ1</text>
<text x="59.00" y="406.70" font-size="12.6" text-anchor="end" fill="#111" >JNKi</text>
<text x="92.70" y="390.50" font-size="12.6" text-anchor="middle" fill="#111" >-</text>
<text x="92.70" y="406.80" font-size="12.6" text-anchor="middle" fill="#111" >-</text>
<text x="159.60" y="390.50" font-size="12.6" text-anchor="middle" fill="#111" >+</text>
<text x="159.60" y="406.80" font-size="12.6" text-anchor="middle" fill="#111" >-</text>
<text x="226.50" y="390.50" font-size="12.6" text-anchor="middle" fill="#111" >+</text>
<text x="226.50" y="406.80" font-size="12.6" text-anchor="middle" fill="#111" >+</text>
<text x="293.40" y="390.50" font-size="12.6" text-anchor="middle" fill="#111" >-</text>
<text x="293.40" y="406.80" font-size="12.6" text-anchor="middle" fill="#111" >-</text>
<text x="360.30" y="390.50" font-size="12.6" text-anchor="middle" fill="#111" >+</text>
<text x="360.30" y="406.80" font-size="12.6" text-anchor="middle" fill="#111" >-</text>
<text x="427.20" y="390.50" font-size="12.6" text-anchor="middle" fill="#111" >+</text>
<text x="427.20" y="406.80" font-size="12.6" text-anchor="middle" fill="#111" >+</text>
<line x1="84.80" y1="414.50" x2="236.00" y2="414.50" stroke="#222" stroke-width="1.2"/>
<line x1="285.50" y1="414.50" x2="437.30" y2="414.50" stroke="#222" stroke-width="1.2"/>
<text x="161.60" y="430.40" font-size="13.1" text-anchor="middle" fill="#111" >ChIP-IgG</text>
<text x="361.40" y="431.60" font-size="13.1" text-anchor="middle" fill="#111" >ChIP-H3S10-P</text>
<text x="500.60" y="236.30" font-size="17.0" text-anchor="start" fill="#000" font-weight="bold" class="nb">e</text>
<text x="558.30" y="244.90" font-size="12.9" fill="#111"><tspan font-style="italic">Klhl25</tspan> promoter</text>
<rect x="557.30" y="259.40" width="10.40" height="10.40" fill="#a0a0a8" />
<text x="573.30" y="269.60" font-size="13.0" text-anchor="start" fill="#111" >Ctrl</text>
<rect x="603.00" y="259.40" width="10.50" height="10.40" fill="#5a55f5" />
<text x="619.20" y="269.60" font-size="12.9" text-anchor="start" fill="#111" >TGFβ1</text>
<rect x="557.30" y="276.40" width="10.40" height="10.40" fill="#de8cfa" />
<text x="573.30" y="286.60" font-size="13.0" text-anchor="start" fill="#111" >TGFβ1+JNKi</text>
<line x1="550.50" y1="291.80" x2="550.50" y2="387.60" stroke="#1a1a1a" stroke-width="1.3"/>
<line x1="547.80" y1="387.50" x2="550.40" y2="387.50" stroke="#1a1a1a" stroke-width="1.3"/>
<text x="546.80" y="391.62" font-size="13.0" text-anchor="end" fill="#111" >0.0</text>
<line x1="547.80" y1="368.50" x2="550.40" y2="368.50" stroke="#1a1a1a" stroke-width="1.3"/>
<text x="546.80" y="372.69" font-size="13.0" text-anchor="end" fill="#111" >0.2</text>
<line x1="547.80" y1="349.50" x2="550.40" y2="349.50" stroke="#1a1a1a" stroke-width="1.3"/>
<text x="546.80" y="353.78" font-size="13.0" text-anchor="end" fill="#111" >0.4</text>
<line x1="547.80" y1="330.50" x2="550.40" y2="330.50" stroke="#1a1a1a" stroke-width="1.3"/>
<text x="546.80" y="334.86" font-size="13.0" text-anchor="end" fill="#111" >0.6</text>
<line x1="547.80" y1="311.50" x2="550.40" y2="311.50" stroke="#1a1a1a" stroke-width="1.3"/>
<text x="546.80" y="315.94" font-size="13.0" text-anchor="end" fill="#111" >0.8</text>
<line x1="547.80" y1="292.50" x2="550.40" y2="292.50" stroke="#1a1a1a" stroke-width="1.3"/>
<text x="546.80" y="297.01" font-size="13.0" text-anchor="end" fill="#111" >1.0</text>
<line x1="550.40" y1="387.50" x2="675.00" y2="387.50" stroke="#333" stroke-width="1.4"/>
<line x1="581.50" y1="387.00" x2="581.50" y2="390.00" stroke="#333" stroke-width="1.4"/>
<line x1="643.50" y1="387.00" x2="643.50" y2="390.00" stroke="#333" stroke-width="1.4"/>
<text x="0" y="0" font-size="12.5" text-anchor="middle" transform="translate(524.00 336.90) rotate(-90) scale(1 1.070)" fill="#111">% Input</text>
<rect x="559.10" y="382.30" width="10.00" height="4.70" fill="#a0a0a8" />
<circle cx="561.10" cy="383.00" r="2.05" fill="#fff" stroke="#555" stroke-width="0.55"/>
<circle cx="566.10" cy="383.50" r="2.05" fill="#fff" stroke="#555" stroke-width="0.55"/>
<circle cx="568.10" cy="378.50" r="2.05" fill="#fff" stroke="#555" stroke-width="0.55"/>
<line x1="564.50" y1="382.30" x2="564.50" y2="379.20" stroke="#000" stroke-width="1.6"/>
<rect x="561.60" y="378.50" width="5.00" height="1.90" fill="#000" />
<rect x="576.60" y="379.80" width="10.00" height="7.20" fill="#5a55f5" />
<circle cx="581.60" cy="372.60" r="2.05" fill="#fff" stroke="#555" stroke-width="0.55"/>
<circle cx="581.60" cy="383.00" r="2.05" fill="#fff" stroke="#555" stroke-width="0.55"/>
<line x1="581.50" y1="379.80" x2="581.50" y2="373.30" stroke="#000" stroke-width="1.6"/>
<rect x="579.10" y="372.60" width="5.00" height="1.90" fill="#000" />
<rect x="594.10" y="382.30" width="10.00" height="4.70" fill="#de8cfa" />
<circle cx="599.10" cy="378.50" r="2.05" fill="#fff" stroke="#555" stroke-width="0.55"/>
<circle cx="599.10" cy="383.50" r="2.05" fill="#fff" stroke="#555" stroke-width="0.55"/>
<line x1="599.50" y1="382.30" x2="599.50" y2="379.20" stroke="#000" stroke-width="1.6"/>
<rect x="596.60" y="378.50" width="5.00" height="1.90" fill="#000" />
<rect x="621.40" y="361.60" width="10.00" height="25.40" fill="#a0a0a8" />
<circle cx="626.40" cy="355.70" r="2.05" fill="#fff" stroke="#555" stroke-width="0.55"/>
<circle cx="626.40" cy="363.50" r="2.05" fill="#fff" stroke="#555" stroke-width="0.55"/>
<circle cx="626.40" cy="366.00" r="2.05" fill="#fff" stroke="#555" stroke-width="0.55"/>
<line x1="626.50" y1="361.60" x2="626.50" y2="356.40" stroke="#000" stroke-width="1.6"/>
<rect x="623.90" y="355.70" width="5.00" height="1.90" fill="#000" />
<rect x="638.90" y="323.20" width="10.00" height="63.80" fill="#5a55f5" />
<circle cx="643.90" cy="341.50" r="2.05" fill="#fff" stroke="#555" stroke-width="0.55"/>
<line x1="643.50" y1="323.20" x2="643.50" y2="305.20" stroke="#000" stroke-width="1.6"/>
<rect x="641.40" y="304.50" width="5.00" height="1.90" fill="#000" />
<rect x="656.40" y="356.50" width="10.00" height="30.50" fill="#de8cfa" />
<circle cx="661.40" cy="350.00" r="2.05" fill="#fff" stroke="#555" stroke-width="0.55"/>
<circle cx="661.40" cy="362.00" r="2.05" fill="#fff" stroke="#555" stroke-width="0.55"/>
<line x1="661.50" y1="356.50" x2="661.50" y2="350.70" stroke="#000" stroke-width="1.6"/>
<rect x="658.90" y="350.00" width="5.00" height="1.90" fill="#000" />
<line x1="628.00" y1="301.50" x2="643.00" y2="301.50" stroke="#222" stroke-width="1.1"/>
<line x1="645.00" y1="301.50" x2="659.40" y2="301.50" stroke="#222" stroke-width="1.1"/>
<text class="sm" x="603.90" y="297.60" font-size="9.4" text-anchor="start" fill="#111"><tspan font-style="italic">p</tspan>=0.0001</text>
<text class="sm" x="643.70" y="297.60" font-size="9.4" text-anchor="start" fill="#111"><tspan font-style="italic">p</tspan>=0.0005</text>
<text x="585.50" y="401.00" font-size="13.3" text-anchor="end" transform="rotate(-45 585.50 401.00)" fill="#111" >IgG</text>
<text x="648.00" y="401.00" font-size="13.3" text-anchor="end" transform="rotate(-45 648.00 401.00)" fill="#111" >NF-YA-JNK</text>
<text x="501.00" y="470.00" font-size="17.0" text-anchor="start" fill="#000" font-weight="bold" class="nb">f</text>
<text x="557.70" y="492.80" font-size="12.9" fill="#111"><tspan font-style="italic">Klhl25</tspan> promoter</text>
<rect x="557.30" y="505.60" width="10.40" height="10.40" fill="#a0a0a8" />
<text x="573.30" y="515.80" font-size="13.5" text-anchor="start" fill="#111" >Ctrl</text>
<rect x="604.20" y="505.60" width="10.50" height="10.40" fill="#5a55f5" />
<text x="619.60" y="515.80" font-size="13.4" text-anchor="start" fill="#111" >TGFβ1</text>
<rect x="557.30" y="524.70" width="10.40" height="10.40" fill="#de8cfa" />
<text x="573.30" y="534.90" font-size="13.5" text-anchor="start" fill="#111" >TGFβ1+JNKi</text>
<line x1="547.50" y1="544.70" x2="547.50" y2="645.20" stroke="#1a1a1a" stroke-width="1.2"/>
<line x1="544.10" y1="644.50" x2="547.60" y2="644.50" stroke="#1a1a1a" stroke-width="1.2"/>
<text x="543.50" y="649.04" font-size="12.5" text-anchor="end" fill="#111" >0.0</text>
<line x1="544.10" y1="611.50" x2="547.60" y2="611.50" stroke="#1a1a1a" stroke-width="1.2"/>
<text x="543.50" y="615.94" font-size="12.5" text-anchor="end" fill="#111" >0.5</text>
<line x1="544.10" y1="578.50" x2="547.60" y2="578.50" stroke="#1a1a1a" stroke-width="1.2"/>
<text x="543.50" y="582.84" font-size="12.5" text-anchor="end" fill="#111" >1.0</text>
<line x1="544.10" y1="545.50" x2="547.60" y2="545.50" stroke="#1a1a1a" stroke-width="1.2"/>
<text x="543.50" y="549.74" font-size="12.5" text-anchor="end" fill="#111" >1.5</text>
<line x1="547.60" y1="644.50" x2="675.00" y2="644.50" stroke="#1a1a1a" stroke-width="1.2"/>
<line x1="579.50" y1="644.60" x2="579.50" y2="647.60" stroke="#1a1a1a" stroke-width="1.2"/>
<line x1="643.50" y1="644.60" x2="643.50" y2="647.60" stroke="#1a1a1a" stroke-width="1.2"/>
<text x="0" y="0" font-size="13.1" text-anchor="middle" transform="translate(519.80 592.60) rotate(-90) scale(1 1.065)" fill="#111">% Input</text>
<rect x="556.70" y="641.20" width="10.00" height="3.40" fill="#a0a0a8" />
<circle cx="558.70" cy="644.00" r="2.05" fill="#fff" stroke="#555" stroke-width="0.55"/>
<circle cx="564.70" cy="644.00" r="2.05" fill="#fff" stroke="#555" stroke-width="0.55"/>
<circle cx="561.70" cy="641.00" r="2.05" fill="#fff" stroke="#555" stroke-width="0.55"/>
<line x1="561.50" y1="641.20" x2="561.50" y2="640.50" stroke="#000" stroke-width="1.6"/>
<rect x="559.20" y="639.80" width="5.00" height="1.90" fill="#000" />
<rect x="574.40" y="640.80" width="10.00" height="3.80" fill="#5a55f5" />
<circle cx="576.40" cy="644.00" r="2.05" fill="#fff" stroke="#555" stroke-width="0.55"/>
<circle cx="582.40" cy="643.00" r="2.05" fill="#fff" stroke="#555" stroke-width="0.55"/>
<circle cx="579.40" cy="640.00" r="2.05" fill="#fff" stroke="#555" stroke-width="0.55"/>
<line x1="579.50" y1="640.80" x2="579.50" y2="639.50" stroke="#000" stroke-width="1.6"/>
<rect x="576.90" y="638.80" width="5.00" height="1.90" fill="#000" />
<rect x="592.10" y="641.20" width="10.00" height="3.40" fill="#de8cfa" />
<circle cx="594.10" cy="644.00" r="2.05" fill="#fff" stroke="#555" stroke-width="0.55"/>
<circle cx="600.10" cy="644.00" r="2.05" fill="#fff" stroke="#555" stroke-width="0.55"/>
<circle cx="597.10" cy="641.00" r="2.05" fill="#fff" stroke="#555" stroke-width="0.55"/>
<line x1="597.50" y1="641.20" x2="597.50" y2="640.50" stroke="#000" stroke-width="1.6"/>
<rect x="594.60" y="639.80" width="5.00" height="1.90" fill="#000" />
<rect x="620.00" y="609.20" width="10.40" height="35.40" fill="#a0a0a8" />
<circle cx="625.20" cy="601.40" r="2.05" fill="#fff" stroke="#555" stroke-width="0.55"/>
<circle cx="622.20" cy="613.50" r="2.05" fill="#fff" stroke="#555" stroke-width="0.55"/>
<circle cx="628.20" cy="613.00" r="2.05" fill="#fff" stroke="#555" stroke-width="0.55"/>
<line x1="625.50" y1="609.20" x2="625.50" y2="602.10" stroke="#000" stroke-width="1.6"/>
<rect x="622.70" y="601.40" width="5.00" height="1.90" fill="#000" />
<rect x="638.00" y="580.20" width="10.40" height="64.40" fill="#5a55f5" />
<circle cx="643.20" cy="570.00" r="2.05" fill="#fff" stroke="#555" stroke-width="0.55"/>
<circle cx="643.20" cy="585.00" r="2.05" fill="#fff" stroke="#555" stroke-width="0.55"/>
<circle cx="643.20" cy="591.00" r="2.05" fill="#fff" stroke="#555" stroke-width="0.55"/>
<line x1="643.50" y1="580.20" x2="643.50" y2="570.70" stroke="#000" stroke-width="1.6"/>
<rect x="640.70" y="570.00" width="5.00" height="1.90" fill="#000" />
<rect x="656.00" y="584.50" width="10.20" height="60.10" fill="#de8cfa" />
<circle cx="661.10" cy="575.20" r="2.05" fill="#fff" stroke="#555" stroke-width="0.55"/>
<circle cx="661.10" cy="592.00" r="2.05" fill="#fff" stroke="#555" stroke-width="0.55"/>
<line x1="661.50" y1="584.50" x2="661.50" y2="575.90" stroke="#000" stroke-width="1.6"/>
<rect x="658.60" y="575.20" width="5.00" height="1.90" fill="#000" />
<line x1="623.80" y1="549.50" x2="660.80" y2="549.50" stroke="#222" stroke-width="1.1"/>
<line x1="623.80" y1="564.50" x2="640.90" y2="564.50" stroke="#222" stroke-width="1.1"/>
<line x1="645.10" y1="564.50" x2="659.40" y2="564.50" stroke="#222" stroke-width="1.1"/>
<text class="sm" x="621.50" y="546.90" font-size="9.4" text-anchor="start" fill="#111"><tspan font-style="italic">p</tspan>=0.0003</text>
<text class="sm" x="600.40" y="560.30" font-size="9.4" text-anchor="start" fill="#111"><tspan font-style="italic">p</tspan>&lt;0.0001</text>
<text class="sm" x="643.70" y="560.30" font-size="9.4" text-anchor="start" fill="#111"><tspan font-style="italic">p</tspan>=0.4263</text>
<text x="583.30" y="659.00" font-size="13.3" text-anchor="end" transform="rotate(-45 583.30 659.00)" fill="#111" >IgG</text>
<text x="648.00" y="659.50" font-size="13.3" text-anchor="end" transform="rotate(-45 648.00 659.50)" fill="#111" >NF-YA</text>
<text x="2.90" y="473.30" font-size="17.0" text-anchor="start" fill="#000" font-weight="bold" class="nb">d</text>
<text x="55.30" y="494.70" font-size="13.1" text-anchor="start" fill="#111" >IP</text>
<text x="71.00" y="494.70" font-size="13.1" text-anchor="start" fill="#111" >IgG</text>
<text x="123.30" y="494.70" font-size="13.1" text-anchor="middle" fill="#111" >JNK</text>
<line x1="70.50" y1="501.50" x2="90.60" y2="501.50" stroke="#888" stroke-width="1.2"/>
<line x1="98.60" y1="501.50" x2="147.60" y2="501.50" stroke="#222" stroke-width="1.2"/>
<text x="68.00" y="515.30" font-size="12.6" text-anchor="end" fill="#111" >TGFβ1</text>
<text x="68.00" y="530.20" font-size="12.6" text-anchor="end" fill="#111" >JNKi</text>
<text x="81.30" y="514.80" font-size="12.6" text-anchor="middle" fill="#111" >-</text>
<text x="81.30" y="530.00" font-size="12.6" text-anchor="middle" fill="#111" >-</text>
<text x="100.00" y="514.80" font-size="12.6" text-anchor="middle" fill="#111" >-</text>
<text x="100.00" y="530.00" font-size="12.6" text-anchor="middle" fill="#111" >-</text>
<text x="122.60" y="514.80" font-size="12.6" text-anchor="middle" fill="#111" >+</text>
<text x="122.60" y="530.00" font-size="12.6" text-anchor="middle" fill="#111" >-</text>
<text x="143.70" y="514.80" font-size="12.6" text-anchor="middle" fill="#111" >+</text>
<text x="143.70" y="530.00" font-size="12.6" text-anchor="middle" fill="#111" >+</text>
<text x="156.00" y="533.90" font-size="10.2" text-anchor="start" fill="#111"  class="sm">kDa</text>
<rect x="73.30" y="537.40" width="82.40" height="22.80" fill="#f3f3f3" />
<g filter="url(#bl)">
<rect x="93.50" y="542.50" width="12.00" height="3.40" rx="1.70" fill="#1a1a1a"/>
<rect x="99.50" y="542.70" width="6.00" height="2.60" rx="1.30" fill="#000"/>
<rect x="111.80" y="541.40" width="14.00" height="4.40" rx="2.20" fill="#000"/>
<rect x="134.60" y="542.10" width="18.40" height="3.00" rx="1.50" fill="#666"/>
<rect x="146.00" y="542.30" width="7.00" height="2.60" rx="1.30" fill="#333"/>
<rect x="93.50" y="550.90" width="12.00" height="3.60" rx="1.80" fill="#c4c4c4"/>
<rect x="111.80" y="550.50" width="14.00" height="4.00" rx="2.00" fill="#aaa"/>
<rect x="134.60" y="550.30" width="18.40" height="3.00" rx="1.50" fill="#e2e2e2"/>
</g>
<rect x="73.30" y="537.40" width="82.40" height="22.80" fill="none" stroke="#1a1a1a" stroke-width="1.2"/>
<line x1="156.40" y1="539.50" x2="160.80" y2="539.50" stroke="#222" stroke-width="1.2"/>
<text x="162.60" y="543.27" font-size="10.2" text-anchor="start" fill="#111"  class="sm">43</text>
<text x="67.70" y="556.50" font-size="13.1" text-anchor="end" fill="#111" >NF-YA</text>
<text x="98.10" y="571.70" font-size="9.6" text-anchor="middle" fill="#111"  class="sm">1.0</text>
<text x="120.20" y="571.70" font-size="9.6" text-anchor="middle" fill="#111"  class="sm">2.3</text>
<text x="143.40" y="571.70" font-size="9.6" text-anchor="middle" fill="#111"  class="sm">1.2</text>
<rect x="72.90" y="574.60" width="83.20" height="41.20" fill="#f6f6f6" />
<g filter="url(#bl)">
<rect x="94.30" y="581.30" width="13.80" height="6.40" rx="3.00" fill="#000"/>
<rect x="112.30" y="581.50" width="15.50" height="5.20" rx="2.60" fill="#050505"/>
<rect x="135.40" y="581.20" width="14.10" height="6.20" rx="3.00" fill="#000"/>
<rect x="94.30" y="604.70" width="13.80" height="3.60" rx="1.80" fill="#2a2a2a"/>
<rect x="113.40" y="605.60" width="16.40" height="3.60" rx="1.80" fill="#8a8a8a"/>
<rect x="138.30" y="605.00" width="12.50" height="3.60" rx="1.80" fill="#444"/>
<rect x="99.60" y="589.70" width="1.20" height="1.40" rx="0.70" fill="#333"/>
<rect x="101.60" y="596.60" width="1.20" height="1.20" rx="0.60" fill="#777"/>
</g>
<rect x="72.90" y="574.60" width="83.20" height="41.20" fill="none" stroke="#1a1a1a" stroke-width="1.2"/>
<line x1="156.40" y1="593.50" x2="160.80" y2="593.50" stroke="#222" stroke-width="1.2"/>
<text x="162.60" y="596.77" font-size="10.2" text-anchor="start" fill="#111"  class="sm">43</text>
<text x="67.00" y="600.00" font-size="13.1" text-anchor="end" fill="#111" >JNK</text>
<rect x="93.60" y="619.30" width="62.00" height="22.80" fill="#eeeeee" />
<g filter="url(#bl)">
<rect x="98.20" y="622.70" width="13.30" height="4.00" rx="2.00" fill="#222"/>
<rect x="118.10" y="622.50" width="13.60" height="4.00" rx="2.00" fill="#111"/>
<rect x="139.00" y="622.70" width="13.30" height="5.00" rx="2.50" fill="#000"/>
<rect x="98.20" y="633.10" width="13.30" height="3.00" rx="1.50" fill="#9a9a9a"/>
<rect x="118.10" y="633.10" width="13.60" height="3.00" rx="1.50" fill="#888"/>
<rect x="139.00" y="633.20" width="13.30" height="3.20" rx="1.60" fill="#666"/>
</g>
<rect x="93.60" y="619.30" width="62.00" height="22.80" fill="none" stroke="#1a1a1a" stroke-width="1.2"/>
<line x1="156.40" y1="621.50" x2="160.80" y2="621.50" stroke="#222" stroke-width="1.2"/>
<text x="162.60" y="624.77" font-size="10.2" text-anchor="start" fill="#111"  class="sm">43</text>
<text x="86.70" y="633.00" font-size="13.1" text-anchor="end" fill="#111" >NF-YA</text>
<rect x="93.60" y="644.80" width="62.00" height="32.30" fill="#d0d0d0" />
<g filter="url(#bl)">
<rect x="98.70" y="650.00" width="13.30" height="2.60" rx="1.30" fill="#1a1a1a"/>
<rect x="106.50" y="649.60" width="5.50" height="3.40" rx="1.70" fill="#000"/>
<rect x="117.60" y="649.70" width="3.00" height="3.00" rx="1.50" fill="#111"/>
<rect x="125.00" y="651.00" width="6.00" height="3.00" rx="1.50" fill="#111"/>
<rect x="137.00" y="650.50" width="13.30" height="2.60" rx="1.30" fill="#222"/>
<rect x="137.50" y="650.10" width="4.00" height="3.40" rx="1.70" fill="#000"/>
<rect x="146.00" y="650.10" width="4.30" height="3.40" rx="1.70" fill="#000"/>
<rect x="98.70" y="668.10" width="13.30" height="3.20" rx="1.60" fill="#777"/>
<rect x="106.00" y="667.70" width="5.50" height="3.60" rx="1.80" fill="#222"/>
<rect x="117.00" y="668.20" width="13.00" height="3.00" rx="1.50" fill="#888"/>
<rect x="117.00" y="667.80" width="4.00" height="3.40" rx="1.70" fill="#333"/>
<rect x="137.00" y="668.20" width="13.00" height="3.00" rx="1.50" fill="#999"/>
<rect x="145.50" y="668.00" width="3.50" height="3.00" rx="1.50" fill="#666"/>
</g>
<rect x="93.60" y="644.80" width="62.00" height="32.30" fill="none" stroke="#1a1a1a" stroke-width="1.2"/>
<line x1="156.40" y1="662.50" x2="160.80" y2="662.50" stroke="#222" stroke-width="1.2"/>
<text x="162.60" y="666.17" font-size="10.2" text-anchor="start" fill="#111"  class="sm">43</text>
<text x="88.80" y="665.10" font-size="13.1" text-anchor="end" fill="#111" >JNK</text>
<text x="0" y="0" font-size="12.6" text-anchor="middle" transform="translate(33.50 646.00) rotate(-90) scale(1 1.077)" fill="#111">Input</text>
<line x1="40.50" y1="620.40" x2="40.50" y2="676.90" stroke="#222" stroke-width="1.2"/>
<line x1="204.50" y1="510.55" x2="204.50" y2="609.70" stroke="#6a6a6a" stroke-width="1.4"/>
<line x1="200.70" y1="609.50" x2="204.20" y2="609.50" stroke="#6a6a6a" stroke-width="1.4"/>
<text x="199.90" y="613.72" font-size="13.0" text-anchor="end" fill="#111" >0</text>
<line x1="200.70" y1="576.50" x2="204.20" y2="576.50" stroke="#6a6a6a" stroke-width="1.4"/>
<text x="199.90" y="581.07" font-size="13.0" text-anchor="end" fill="#111" >1</text>
<line x1="200.70" y1="543.50" x2="204.20" y2="543.50" stroke="#6a6a6a" stroke-width="1.4"/>
<text x="199.90" y="548.42" font-size="13.0" text-anchor="end" fill="#111" >2</text>
<line x1="200.70" y1="511.50" x2="204.20" y2="511.50" stroke="#6a6a6a" stroke-width="1.4"/>
<text x="199.90" y="515.76" font-size="13.0" text-anchor="end" fill="#111" >3</text>
<line x1="204.20" y1="609.50" x2="252.70" y2="609.50" stroke="#6a6a6a" stroke-width="1.4"/>
<line x1="212.50" y1="609.10" x2="212.50" y2="612.10" stroke="#6a6a6a" stroke-width="1.4"/>
<line x1="228.50" y1="609.10" x2="228.50" y2="612.10" stroke="#6a6a6a" stroke-width="1.4"/>
<line x1="244.50" y1="609.10" x2="244.50" y2="612.10" stroke="#6a6a6a" stroke-width="1.4"/>
<rect x="207.90" y="578.20" width="8.20" height="30.90" fill="#a0a0a8" />
<circle cx="209.00" cy="577.00" r="2.05" fill="#fff" stroke="#555" stroke-width="0.55"/>
<circle cx="215.00" cy="580.00" r="2.05" fill="#fff" stroke="#555" stroke-width="0.55"/>
<circle cx="212.00" cy="581.00" r="2.05" fill="#fff" stroke="#555" stroke-width="0.55"/>
<line x1="212.50" y1="578.20" x2="212.50" y2="574.90" stroke="#000" stroke-width="1.6"/>
<rect x="209.50" y="574.20" width="5.00" height="1.90" fill="#000" />
<rect x="224.20" y="534.80" width="8.20" height="74.30" fill="#5a55f5" />
<circle cx="228.30" cy="521.90" r="2.05" fill="#fff" stroke="#555" stroke-width="0.55"/>
<circle cx="228.30" cy="539.50" r="2.05" fill="#fff" stroke="#555" stroke-width="0.55"/>
<circle cx="228.30" cy="545.50" r="2.05" fill="#fff" stroke="#555" stroke-width="0.55"/>
<line x1="228.50" y1="534.80" x2="228.50" y2="522.60" stroke="#000" stroke-width="1.6"/>
<rect x="225.80" y="521.90" width="5.00" height="1.90" fill="#000" />
<rect x="240.20" y="570.60" width="8.20" height="38.50" fill="#de8cfa" />
<circle cx="244.30" cy="565.20" r="2.05" fill="#fff" stroke="#555" stroke-width="0.55"/>
<circle cx="241.30" cy="575.00" r="2.05" fill="#fff" stroke="#555" stroke-width="0.55"/>
<circle cx="247.30" cy="572.00" r="2.05" fill="#fff" stroke="#555" stroke-width="0.55"/>
<line x1="244.50" y1="570.60" x2="244.50" y2="565.90" stroke="#000" stroke-width="1.6"/>
<rect x="241.80" y="565.20" width="5.00" height="1.90" fill="#000" />
<text x="187.80" y="557.20" font-size="13.6" text-anchor="middle" transform="rotate(-90 187.80 557.20)" fill="#111" >NF-YA/JNK</text>
<line x1="211.40" y1="514.50" x2="225.50" y2="514.50" stroke="#222" stroke-width="1.1"/>
<line x1="228.00" y1="501.50" x2="243.20" y2="501.50" stroke="#222" stroke-width="1.1"/>
<text class="sm" x="207.00" y="511.20" font-size="9.4" text-anchor="start" fill="#111"><tspan font-style="italic">p</tspan>=0.0007</text>
<text class="sm" x="215.20" y="497.90" font-size="9.4" text-anchor="start" fill="#111"><tspan font-style="italic">p</tspan>=0.0016</text>
<text x="216.50" y="624.00" font-size="13.0" text-anchor="end" transform="rotate(-45 216.50 624.00)" fill="#111" >Ctrl</text>
<text x="232.00" y="625.00" font-size="13.0" text-anchor="end" transform="rotate(-45 232.00 625.00)" fill="#111" >TGFβ1</text>
<text x="248.50" y="625.00" font-size="13.0" text-anchor="end" transform="rotate(-45 248.50 625.00)" fill="#111" >TGFβ1+JNKi</text>
<text x="289.00" y="494.50" font-size="13.1" text-anchor="start" fill="#111" >IP</text>
<text x="306.20" y="494.50" font-size="13.1" text-anchor="start" fill="#111" >IgG</text>
<text x="356.00" y="494.50" font-size="13.1" text-anchor="middle" fill="#111" >NF-YA</text>
<line x1="303.90" y1="500.50" x2="324.20" y2="500.50" stroke="#888" stroke-width="1.2"/>
<line x1="332.60" y1="500.50" x2="381.70" y2="500.50" stroke="#222" stroke-width="1.2"/>
<text x="301.50" y="514.40" font-size="12.6" text-anchor="end" fill="#111" >TGFβ1</text>
<text x="301.50" y="529.60" font-size="12.6" text-anchor="end" fill="#111" >JNKi</text>
<text x="315.50" y="514.00" font-size="12.6" text-anchor="middle" fill="#111" >-</text>
<text x="315.50" y="529.40" font-size="12.6" text-anchor="middle" fill="#111" >-</text>
<text x="334.20" y="514.00" font-size="12.6" text-anchor="middle" fill="#111" >-</text>
<text x="334.20" y="529.40" font-size="12.6" text-anchor="middle" fill="#111" >-</text>
<text x="356.90" y="514.00" font-size="12.6" text-anchor="middle" fill="#111" >+</text>
<text x="356.90" y="529.40" font-size="12.6" text-anchor="middle" fill="#111" >-</text>
<text x="377.50" y="514.00" font-size="12.6" text-anchor="middle" fill="#111" >+</text>
<text x="377.50" y="529.40" font-size="12.6" text-anchor="middle" fill="#111" >+</text>
<text x="389.60" y="535.90" font-size="10.2" text-anchor="start" fill="#111"  class="sm">kDa</text>
<rect x="304.30" y="538.00" width="83.30" height="39.40" fill="#f7f7f7" />
<g filter="url(#bl)">
<rect x="329.30" y="543.30" width="11.00" height="3.40" rx="1.70" fill="#151515"/>
<rect x="346.30" y="542.70" width="14.10" height="4.60" rx="2.30" fill="#000"/>
<rect x="367.10" y="543.60" width="15.10" height="2.80" rx="1.40" fill="#999"/>
<rect x="377.00" y="543.50" width="5.20" height="3.00" rx="1.50" fill="#333"/>
<rect x="329.30" y="566.90" width="11.00" height="3.40" rx="1.70" fill="#cfcfcf"/>
<rect x="346.30" y="566.90" width="14.10" height="3.40" rx="1.70" fill="#c0c0c0"/>
<rect x="367.10" y="567.10" width="15.10" height="3.00" rx="1.50" fill="#e8e8e8"/>
</g>
<rect x="304.30" y="538.00" width="83.30" height="39.40" fill="none" stroke="#1a1a1a" stroke-width="1.2"/>
<line x1="387.20" y1="556.50" x2="391.60" y2="556.50" stroke="#222" stroke-width="1.2"/>
<text x="393.40" y="559.67" font-size="10.2" text-anchor="start" fill="#111"  class="sm">43</text>
<text x="300.40" y="562.30" font-size="13.1" text-anchor="end" fill="#111" >JNK</text>
<text x="332.80" y="587.30" font-size="9.6" text-anchor="middle" fill="#111"  class="sm">1.0</text>
<text x="355.10" y="587.30" font-size="9.6" text-anchor="middle" fill="#111"  class="sm">2.2</text>
<text x="377.80" y="587.30" font-size="9.6" text-anchor="middle" fill="#111"  class="sm">1.1</text>
<rect x="304.30" y="590.40" width="83.30" height="24.20" fill="#f3f3f3" />
<rect x="322" y="592" width="64" height="22" fill="#e6e6e6" filter="url(#bl2)"/>
<g filter="url(#bl)">
<rect x="325.50" y="595.10" width="17.20" height="4.00" rx="2.00" fill="#222"/>
<rect x="347.00" y="594.85" width="16.10" height="4.50" rx="2.25" fill="#111"/>
<rect x="368.50" y="594.60" width="16.10" height="5.00" rx="2.50" fill="#000"/>
<rect x="325.50" y="605.90" width="17.20" height="3.40" rx="1.70" fill="#aaa"/>
<rect x="347.00" y="605.90" width="16.10" height="3.40" rx="1.70" fill="#999"/>
<rect x="368.50" y="605.80" width="16.10" height="3.60" rx="1.80" fill="#6a6a6a"/>
</g>
<rect x="304.30" y="590.40" width="83.30" height="24.20" fill="none" stroke="#1a1a1a" stroke-width="1.2"/>
<line x1="387.70" y1="593.50" x2="392.10" y2="593.50" stroke="#222" stroke-width="1.2"/>
<text x="393.90" y="596.67" font-size="10.2" text-anchor="start" fill="#111"  class="sm">43</text>
<text x="298.40" y="607.10" font-size="13.1" text-anchor="end" fill="#111" >NF-YA</text>
<rect x="325.30" y="617.30" width="62.00" height="23.30" fill="#e2e2e2" />
<g filter="url(#bl)">
<rect x="331.00" y="623.00" width="13.70" height="2.80" rx="1.40" fill="#333"/>
<rect x="331.00" y="622.80" width="3.50" height="3.20" rx="1.60" fill="#111"/>
<rect x="341.00" y="622.30" width="3.70" height="3.40" rx="1.70" fill="#111"/>
<rect x="350.00" y="621.90" width="13.10" height="3.00" rx="1.50" fill="#222"/>
<rect x="368.30" y="621.80" width="14.80" height="3.20" rx="1.60" fill="#111"/>
<rect x="331.00" y="633.75" width="14.00" height="4.50" rx="2.25" fill="#111"/>
<rect x="350.00" y="633.50" width="14.00" height="5.00" rx="2.50" fill="#000"/>
<rect x="368.00" y="633.50" width="15.00" height="5.00" rx="2.50" fill="#111"/>
</g>
<rect x="325.30" y="617.30" width="62.00" height="23.30" fill="none" stroke="#1a1a1a" stroke-width="1.2"/>
<line x1="387.70" y1="627.50" x2="392.10" y2="627.50" stroke="#222" stroke-width="1.2"/>
<text x="393.90" y="631.17" font-size="10.2" text-anchor="start" fill="#111"  class="sm">43</text>
<text x="322.00" y="635.00" font-size="13.1" text-anchor="end" fill="#111" >JNK</text>
<rect x="325.30" y="644.40" width="62.00" height="19.80" fill="#f0f0f0" />
<g filter="url(#bl)">
<rect x="330.50" y="649.15" width="14.50" height="4.50" rx="2.25" fill="#000"/>
<rect x="349.40" y="649.15" width="13.70" height="4.50" rx="2.25" fill="#000"/>
<rect x="367.30" y="649.40" width="14.20" height="4.00" rx="2.00" fill="#000"/>
<rect x="330.50" y="656.65" width="14.50" height="2.50" rx="1.25" fill="#333"/>
<rect x="349.40" y="656.65" width="13.70" height="2.50" rx="1.25" fill="#333"/>
<rect x="367.30" y="656.65" width="15.70" height="2.50" rx="1.25" fill="#444"/>
</g>
<rect x="325.30" y="644.40" width="62.00" height="19.80" fill="none" stroke="#1a1a1a" stroke-width="1.2"/>
<line x1="387.70" y1="647.50" x2="392.10" y2="647.50" stroke="#222" stroke-width="1.2"/>
<text x="393.90" y="650.97" font-size="10.2" text-anchor="start" fill="#111"  class="sm">43</text>
<text x="321.50" y="657.50" font-size="13.1" text-anchor="end" fill="#111" >NF-YA</text>
<text x="0" y="0" font-size="12.6" text-anchor="middle" transform="translate(270.60 640.00) rotate(-90) scale(1 1.077)" fill="#111">Input</text>
<line x1="279.50" y1="618.30" x2="279.50" y2="666.70" stroke="#222" stroke-width="1.2"/>
<line x1="436.50" y1="501.41" x2="436.50" y2="599.60" stroke="#1a1a1a" stroke-width="1.2"/>
<line x1="433.00" y1="599.50" x2="436.50" y2="599.50" stroke="#1a1a1a" stroke-width="1.2"/>
<text x="434.00" y="603.62" font-size="13.0" text-anchor="end" fill="#111" >0</text>
<line x1="433.00" y1="566.50" x2="436.50" y2="566.50" stroke="#1a1a1a" stroke-width="1.2"/>
<text x="434.00" y="571.28" font-size="13.0" text-anchor="end" fill="#111" >1</text>
<line x1="433.00" y1="534.50" x2="436.50" y2="534.50" stroke="#1a1a1a" stroke-width="1.2"/>
<text x="434.00" y="538.96" font-size="13.0" text-anchor="end" fill="#111" >2</text>
<line x1="433.00" y1="502.50" x2="436.50" y2="502.50" stroke="#1a1a1a" stroke-width="1.2"/>
<text x="434.00" y="506.62" font-size="13.0" text-anchor="end" fill="#111" >3</text>
<line x1="436.50" y1="599.50" x2="486.30" y2="599.50" stroke="#1a1a1a" stroke-width="1.2"/>
<line x1="445.50" y1="599.00" x2="445.50" y2="602.00" stroke="#1a1a1a" stroke-width="1.2"/>
<line x1="461.50" y1="599.00" x2="461.50" y2="602.00" stroke="#1a1a1a" stroke-width="1.2"/>
<line x1="477.50" y1="599.00" x2="477.50" y2="602.00" stroke="#1a1a1a" stroke-width="1.2"/>
<rect x="441.00" y="567.00" width="8.20" height="32.00" fill="#a0a0a8" />
<circle cx="442.60" cy="568.00" r="2.05" fill="#fff" stroke="#555" stroke-width="0.55"/>
<circle cx="447.10" cy="567.50" r="2.05" fill="#fff" stroke="#555" stroke-width="0.55"/>
<line x1="445.50" y1="567.00" x2="445.50" y2="565.50" stroke="#000" stroke-width="1.6"/>
<rect x="442.60" y="564.80" width="5.00" height="1.90" fill="#000" />
<rect x="457.50" y="528.90" width="8.60" height="70.10" fill="#5a55f5" />
<circle cx="461.80" cy="517.70" r="2.05" fill="#fff" stroke="#555" stroke-width="0.55"/>
<circle cx="461.80" cy="532.00" r="2.05" fill="#fff" stroke="#555" stroke-width="0.55"/>
<circle cx="461.80" cy="538.00" r="2.05" fill="#fff" stroke="#555" stroke-width="0.55"/>
<line x1="461.50" y1="528.90" x2="461.50" y2="518.40" stroke="#000" stroke-width="1.6"/>
<rect x="459.30" y="517.70" width="5.00" height="1.90" fill="#000" />
<rect x="473.50" y="563.60" width="8.20" height="35.40" fill="#de8cfa" />
<circle cx="477.60" cy="561.00" r="2.05" fill="#fff" stroke="#555" stroke-width="0.55"/>
<circle cx="474.60" cy="565.50" r="2.05" fill="#fff" stroke="#555" stroke-width="0.55"/>
<circle cx="480.60" cy="564.50" r="2.05" fill="#fff" stroke="#555" stroke-width="0.55"/>
<line x1="477.50" y1="563.60" x2="477.50" y2="560.00" stroke="#000" stroke-width="1.6"/>
<rect x="475.10" y="559.30" width="5.00" height="1.90" fill="#000" />
<text x="422.40" y="547.20" font-size="13.6" text-anchor="middle" transform="rotate(-90 422.40 547.20)" fill="#111" >JNK/NF-YA</text>
<line x1="445.70" y1="511.50" x2="459.80" y2="511.50" stroke="#222" stroke-width="1.1"/>
<line x1="462.80" y1="499.50" x2="477.20" y2="499.50" stroke="#222" stroke-width="1.1"/>
<text class="sm" x="440.00" y="508.30" font-size="9.4" text-anchor="start" fill="#111"><tspan font-style="italic">p</tspan>=0.0003</text>
<text class="sm" x="448.00" y="495.60" font-size="9.4" text-anchor="start" fill="#111"><tspan font-style="italic">p</tspan>=0.0005</text>
<text x="449.00" y="613.50" font-size="13.0" text-anchor="end" transform="rotate(-45 449.00 613.50)" fill="#111" >Ctrl</text>
<text x="465.50" y="614.50" font-size="13.0" text-anchor="end" transform="rotate(-45 465.50 614.50)" fill="#111" >TGFβ1</text>
<text x="481.50" y="614.50" font-size="13.0" text-anchor="end" transform="rotate(-45 481.50 614.50)" fill="#111" >TGFβ1+JNKi</text>
<text x="2.60" y="712.00" font-size="17.0" text-anchor="start" fill="#000" font-weight="bold" class="nb">g</text>
<line x1="71.50" y1="756.50" x2="71.50" y2="857.60" stroke="#1a1a1a" stroke-width="1.2"/>
<line x1="67.50" y1="857.50" x2="71.00" y2="857.50" stroke="#1a1a1a" stroke-width="1.2"/>
<text x="68.20" y="861.62" font-size="13.0" text-anchor="end" fill="#111" >0.0</text>
<line x1="67.50" y1="823.50" x2="71.00" y2="823.50" stroke="#1a1a1a" stroke-width="1.2"/>
<text x="68.20" y="828.32" font-size="13.0" text-anchor="end" fill="#111" >0.5</text>
<line x1="67.50" y1="790.50" x2="71.00" y2="790.50" stroke="#1a1a1a" stroke-width="1.2"/>
<text x="68.20" y="795.01" font-size="13.0" text-anchor="end" fill="#111" >1.0</text>
<line x1="67.50" y1="757.50" x2="71.00" y2="757.50" stroke="#1a1a1a" stroke-width="1.2"/>
<text x="68.20" y="761.72" font-size="13.0" text-anchor="end" fill="#111" >1.5</text>
<line x1="71.00" y1="857.50" x2="480.70" y2="857.50" stroke="#1a1a1a" stroke-width="1.2"/>
<line x1="105.50" y1="857.00" x2="105.50" y2="860.00" stroke="#1a1a1a" stroke-width="1.2"/>
<line x1="173.50" y1="857.00" x2="173.50" y2="860.00" stroke="#1a1a1a" stroke-width="1.2"/>
<line x1="241.50" y1="857.00" x2="241.50" y2="860.00" stroke="#1a1a1a" stroke-width="1.2"/>
<line x1="309.50" y1="857.00" x2="309.50" y2="860.00" stroke="#1a1a1a" stroke-width="1.2"/>
<line x1="377.50" y1="857.00" x2="377.50" y2="860.00" stroke="#1a1a1a" stroke-width="1.2"/>
<line x1="445.50" y1="857.00" x2="445.50" y2="860.00" stroke="#1a1a1a" stroke-width="1.2"/>
<text x="215.50" y="738.40" font-size="12.9" fill="#111"><tspan font-style="italic">Klhl25</tspan> promoter</text>
<rect x="83.40" y="754.80" width="11.10" height="3.60" fill="#1e00fa" />
<text x="101.50" y="760.35" font-size="13.2" text-anchor="start" fill="#111" >-1100~ -850</text>
<rect x="83.40" y="770.60" width="11.10" height="3.60" fill="#5a55f5" />
<text x="101.50" y="776.15" font-size="13.2" text-anchor="start" fill="#111" >-850~ -600</text>
<rect x="83.40" y="786.40" width="11.10" height="3.60" fill="#c0c0fa" />
<text x="101.50" y="791.95" font-size="13.2" text-anchor="start" fill="#111" >-600~ -350</text>
<rect x="83.40" y="802.70" width="11.10" height="3.60" fill="#88a8d4" />
<text x="101.50" y="808.25" font-size="13.2" text-anchor="start" fill="#111" >-350~ -100</text>
<text x="0" y="0" font-size="13.3" text-anchor="middle" transform="translate(47.00 804.50) rotate(-90) scale(1 1.147)" fill="#111">% Input</text>
<rect x="78.95" y="853.50" width="9.70" height="3.50" fill="#1e00fa" />
<circle cx="80.80" cy="856.50" r="2.05" fill="#fff" stroke="#555" stroke-width="0.55"/>
<circle cx="86.80" cy="852.00" r="2.05" fill="#fff" stroke="#555" stroke-width="0.55"/>
<line x1="83.50" y1="853.50" x2="83.50" y2="851.50" stroke="#000" stroke-width="1.6"/>
<rect x="81.30" y="850.80" width="5.00" height="1.90" fill="#000" />
<rect x="93.55" y="855.50" width="9.70" height="1.50" fill="#5a55f5" />
<circle cx="95.90" cy="856.50" r="2.05" fill="#fff" stroke="#555" stroke-width="0.55"/>
<circle cx="100.90" cy="855.00" r="2.05" fill="#fff" stroke="#555" stroke-width="0.55"/>
<line x1="98.50" y1="855.50" x2="98.50" y2="853.50" stroke="#000" stroke-width="1.6"/>
<rect x="95.90" y="852.80" width="5.00" height="1.90" fill="#000" />
<circle cx="110.50" cy="856.80" r="2.05" fill="#fff" stroke="#555" stroke-width="0.55"/>
<circle cx="115.50" cy="856.80" r="2.05" fill="#fff" stroke="#555" stroke-width="0.55"/>
<line x1="113.50" y1="857.00" x2="113.50" y2="856.00" stroke="#000" stroke-width="1.6"/>
<rect x="110.50" y="855.30" width="5.00" height="1.90" fill="#000" />
<circle cx="125.10" cy="856.80" r="2.05" fill="#fff" stroke="#555" stroke-width="0.55"/>
<circle cx="130.10" cy="856.80" r="2.05" fill="#fff" stroke="#555" stroke-width="0.55"/>
<line x1="127.50" y1="857.00" x2="127.50" y2="856.50" stroke="#000" stroke-width="1.6"/>
<rect x="125.10" y="855.80" width="5.00" height="1.90" fill="#000" />
<rect x="146.95" y="856.00" width="9.70" height="1.00" fill="#1e00fa" />
<circle cx="148.80" cy="856.50" r="2.05" fill="#fff" stroke="#555" stroke-width="0.55"/>
<circle cx="153.80" cy="854.80" r="2.05" fill="#fff" stroke="#555" stroke-width="0.55"/>
<line x1="151.50" y1="856.00" x2="151.50" y2="855.50" stroke="#000" stroke-width="1.6"/>
<rect x="149.30" y="854.80" width="5.00" height="1.90" fill="#000" />
<rect x="161.55" y="853.50" width="9.70" height="3.50" fill="#5a55f5" />
<circle cx="163.90" cy="856.50" r="2.05" fill="#fff" stroke="#555" stroke-width="0.55"/>
<circle cx="168.90" cy="856.50" r="2.05" fill="#fff" stroke="#555" stroke-width="0.55"/>
<circle cx="166.40" cy="849.30" r="2.05" fill="#fff" stroke="#555" stroke-width="0.55"/>
<line x1="166.50" y1="853.50" x2="166.50" y2="850.00" stroke="#000" stroke-width="1.6"/>
<rect x="163.90" y="849.30" width="5.00" height="1.90" fill="#000" />
<rect x="176.15" y="850.50" width="9.70" height="6.50" fill="#c0c0fa" />
<circle cx="181.00" cy="844.80" r="2.05" fill="#fff" stroke="#555" stroke-width="0.55"/>
<circle cx="178.50" cy="856.80" r="2.05" fill="#fff" stroke="#555" stroke-width="0.55"/>
<circle cx="183.50" cy="856.50" r="2.05" fill="#fff" stroke="#555" stroke-width="0.55"/>
<line x1="181.50" y1="850.50" x2="181.50" y2="845.50" stroke="#000" stroke-width="1.6"/>
<rect x="178.50" y="844.80" width="5.00" height="1.90" fill="#000" />
<rect x="190.75" y="851.50" width="9.70" height="5.50" fill="#88a8d4" />
<circle cx="195.60" cy="845.80" r="2.05" fill="#fff" stroke="#555" stroke-width="0.55"/>
<circle cx="195.60" cy="856.50" r="2.05" fill="#fff" stroke="#555" stroke-width="0.55"/>
<line x1="195.50" y1="851.50" x2="195.50" y2="846.50" stroke="#000" stroke-width="1.6"/>
<rect x="193.10" y="845.80" width="5.00" height="1.90" fill="#000" />
<circle cx="216.80" cy="856.80" r="2.05" fill="#fff" stroke="#555" stroke-width="0.55"/>
<circle cx="219.80" cy="856.80" r="2.05" fill="#fff" stroke="#555" stroke-width="0.55"/>
<circle cx="222.80" cy="856.80" r="2.05" fill="#fff" stroke="#555" stroke-width="0.55"/>
<rect x="229.55" y="856.00" width="9.70" height="1.00" fill="#5a55f5" />
<circle cx="231.40" cy="856.80" r="2.05" fill="#fff" stroke="#555" stroke-width="0.55"/>
<circle cx="236.90" cy="855.00" r="2.05" fill="#fff" stroke="#555" stroke-width="0.55"/>
<line x1="234.50" y1="856.00" x2="234.50" y2="854.50" stroke="#000" stroke-width="1.6"/>
<rect x="231.90" y="853.80" width="5.00" height="1.90" fill="#000" />
<rect x="244.15" y="856.50" width="9.70" height="0.50" fill="#c0c0fa" />
<circle cx="246.50" cy="856.80" r="2.05" fill="#fff" stroke="#555" stroke-width="0.55"/>
<circle cx="251.50" cy="856.00" r="2.05" fill="#fff" stroke="#555" stroke-width="0.55"/>
<line x1="249.50" y1="856.50" x2="249.50" y2="855.50" stroke="#000" stroke-width="1.6"/>
<rect x="246.50" y="854.80" width="5.00" height="1.90" fill="#000" />
<rect x="258.75" y="856.50" width="9.70" height="0.50" fill="#88a8d4" />
<circle cx="261.10" cy="856.80" r="2.05" fill="#fff" stroke="#555" stroke-width="0.55"/>
<circle cx="266.10" cy="856.80" r="2.05" fill="#fff" stroke="#555" stroke-width="0.55"/>
<line x1="263.50" y1="856.50" x2="263.50" y2="856.00" stroke="#000" stroke-width="1.6"/>
<rect x="261.10" y="855.30" width="5.00" height="1.90" fill="#000" />
<rect x="282.95" y="838.60" width="9.70" height="18.40" fill="#1e00fa" />
<circle cx="287.80" cy="828.10" r="2.05" fill="#fff" stroke="#555" stroke-width="0.55"/>
<circle cx="287.80" cy="840.00" r="2.05" fill="#fff" stroke="#555" stroke-width="0.55"/>
<circle cx="287.80" cy="847.50" r="2.05" fill="#fff" stroke="#555" stroke-width="0.55"/>
<line x1="287.50" y1="838.60" x2="287.50" y2="828.80" stroke="#000" stroke-width="1.6"/>
<rect x="285.30" y="828.10" width="5.00" height="1.90" fill="#000" />
<rect x="297.55" y="845.60" width="9.70" height="11.40" fill="#5a55f5" />
<circle cx="302.40" cy="833.30" r="2.05" fill="#fff" stroke="#555" stroke-width="0.55"/>
<circle cx="299.90" cy="853.00" r="2.05" fill="#fff" stroke="#555" stroke-width="0.55"/>
<circle cx="304.90" cy="851.50" r="2.05" fill="#fff" stroke="#555" stroke-width="0.55"/>
<line x1="302.50" y1="845.60" x2="302.50" y2="834.00" stroke="#000" stroke-width="1.6"/>
<rect x="299.90" y="833.30" width="5.00" height="1.90" fill="#000" />
<rect x="312.15" y="849.30" width="9.70" height="7.70" fill="#c0c0fa" />
<circle cx="317.00" cy="846.30" r="2.05" fill="#fff" stroke="#555" stroke-width="0.55"/>
<circle cx="317.00" cy="852.00" r="2.05" fill="#fff" stroke="#555" stroke-width="0.55"/>
<line x1="317.50" y1="849.30" x2="317.50" y2="847.00" stroke="#000" stroke-width="1.6"/>
<rect x="314.50" y="846.30" width="5.00" height="1.90" fill="#000" />
<rect x="326.75" y="847.40" width="9.70" height="9.60" fill="#88a8d4" />
<circle cx="331.60" cy="837.20" r="2.05" fill="#fff" stroke="#555" stroke-width="0.55"/>
<circle cx="328.60" cy="853.50" r="2.05" fill="#fff" stroke="#555" stroke-width="0.55"/>
<circle cx="334.60" cy="852.50" r="2.05" fill="#fff" stroke="#555" stroke-width="0.55"/>
<line x1="331.50" y1="847.40" x2="331.50" y2="837.90" stroke="#000" stroke-width="1.6"/>
<rect x="329.10" y="837.20" width="5.00" height="1.90" fill="#000" />
<rect x="350.95" y="804.40" width="9.70" height="52.60" fill="#1e00fa" />
<circle cx="355.80" cy="786.00" r="2.05" fill="#fff" stroke="#555" stroke-width="0.55"/>
<circle cx="355.80" cy="809.50" r="2.05" fill="#fff" stroke="#555" stroke-width="0.55"/>
<circle cx="355.80" cy="818.50" r="2.05" fill="#fff" stroke="#555" stroke-width="0.55"/>
<line x1="355.50" y1="804.40" x2="355.50" y2="786.70" stroke="#000" stroke-width="1.6"/>
<rect x="353.30" y="786.00" width="5.00" height="1.90" fill="#000" />
<rect x="365.55" y="807.10" width="9.70" height="49.90" fill="#5a55f5" />
<circle cx="370.40" cy="785.50" r="2.05" fill="#fff" stroke="#555" stroke-width="0.55"/>
<circle cx="370.40" cy="815.50" r="2.05" fill="#fff" stroke="#555" stroke-width="0.55"/>
<circle cx="370.40" cy="822.00" r="2.05" fill="#fff" stroke="#555" stroke-width="0.55"/>
<line x1="370.50" y1="807.10" x2="370.50" y2="786.20" stroke="#000" stroke-width="1.6"/>
<rect x="367.90" y="785.50" width="5.00" height="1.90" fill="#000" />
<rect x="380.15" y="820.20" width="9.70" height="36.80" fill="#c0c0fa" />
<circle cx="385.00" cy="813.50" r="2.05" fill="#fff" stroke="#555" stroke-width="0.55"/>
<circle cx="385.00" cy="831.00" r="2.05" fill="#fff" stroke="#555" stroke-width="0.55"/>
<line x1="385.50" y1="820.20" x2="385.50" y2="811.10" stroke="#000" stroke-width="1.6"/>
<rect x="382.50" y="810.40" width="5.00" height="1.90" fill="#000" />
<rect x="394.75" y="843.50" width="9.70" height="13.50" fill="#88a8d4" />
<circle cx="399.60" cy="826.70" r="2.05" fill="#fff" stroke="#555" stroke-width="0.55"/>
<circle cx="399.60" cy="847.50" r="2.05" fill="#fff" stroke="#555" stroke-width="0.55"/>
<circle cx="399.60" cy="856.00" r="2.05" fill="#fff" stroke="#555" stroke-width="0.55"/>
<line x1="399.50" y1="843.50" x2="399.50" y2="827.40" stroke="#000" stroke-width="1.6"/>
<rect x="397.10" y="826.70" width="5.00" height="1.90" fill="#000" />
<rect x="418.95" y="853.20" width="9.70" height="3.80" fill="#1e00fa" />
<circle cx="423.80" cy="845.10" r="2.05" fill="#fff" stroke="#555" stroke-width="0.55"/>
<circle cx="423.80" cy="856.30" r="2.05" fill="#fff" stroke="#555" stroke-width="0.55"/>
<line x1="423.50" y1="853.20" x2="423.50" y2="845.80" stroke="#000" stroke-width="1.6"/>
<rect x="421.30" y="845.10" width="5.00" height="1.90" fill="#000" />
<rect x="433.55" y="852.60" width="9.70" height="4.40" fill="#5a55f5" />
<circle cx="438.40" cy="845.10" r="2.05" fill="#fff" stroke="#555" stroke-width="0.55"/>
<circle cx="435.90" cy="856.30" r="2.05" fill="#fff" stroke="#555" stroke-width="0.55"/>
<circle cx="440.90" cy="855.50" r="2.05" fill="#fff" stroke="#555" stroke-width="0.55"/>
<line x1="438.50" y1="852.60" x2="438.50" y2="845.80" stroke="#000" stroke-width="1.6"/>
<rect x="435.90" y="845.10" width="5.00" height="1.90" fill="#000" />
<rect x="448.15" y="852.30" width="9.70" height="4.70" fill="#c0c0fa" />
<circle cx="453.00" cy="844.60" r="2.05" fill="#fff" stroke="#555" stroke-width="0.55"/>
<circle cx="450.50" cy="856.30" r="2.05" fill="#fff" stroke="#555" stroke-width="0.55"/>
<circle cx="455.50" cy="855.50" r="2.05" fill="#fff" stroke="#555" stroke-width="0.55"/>
<line x1="453.50" y1="852.30" x2="453.50" y2="845.30" stroke="#000" stroke-width="1.6"/>
<rect x="450.50" y="844.60" width="5.00" height="1.90" fill="#000" />
<rect x="462.75" y="848.30" width="9.70" height="8.70" fill="#88a8d4" />
<circle cx="467.60" cy="841.50" r="2.05" fill="#fff" stroke="#555" stroke-width="0.55"/>
<circle cx="467.60" cy="856.30" r="2.05" fill="#fff" stroke="#555" stroke-width="0.55"/>
<line x1="467.50" y1="848.30" x2="467.50" y2="840.50" stroke="#000" stroke-width="1.6"/>
<rect x="465.10" y="839.80" width="5.00" height="1.90" fill="#000" />
<polyline points="284.50,812.50 334.50,812.50" fill="none" stroke="#333" stroke-width="1.2"/>
<polyline points="309.50,812.50 309.50,756.50 370.50,756.50 370.50,772.50" fill="none" stroke="#333" stroke-width="1.2"/>
<polyline points="350.50,772.50 401.50,772.50" fill="none" stroke="#333" stroke-width="1.2"/>
<polyline points="382.50,772.50 382.50,756.50 445.50,756.50 445.50,831.50" fill="none" stroke="#333" stroke-width="1.2"/>
<polyline points="420.50,831.50 469.50,831.50" fill="none" stroke="#333" stroke-width="1.2"/>
<text class="sm" x="318.70" y="752.90" font-size="9.7" text-anchor="start" fill="#111"><tspan font-style="italic">p</tspan>&lt;0.0001</text>
<text class="sm" x="392.40" y="752.40" font-size="9.7" text-anchor="start" fill="#111"><tspan font-style="italic">p</tspan>&lt;0.0001</text>
<text x="68.00" y="873.40" font-size="12.6" text-anchor="end" fill="#111" >TGFβ1</text>
<text x="68.00" y="891.70" font-size="13.1" text-anchor="end" fill="#111">si<tspan font-style="italic">Nfya</tspan></text>
<text x="105.70" y="875.20" font-size="12.6" text-anchor="middle" fill="#111" >-</text>
<text x="105.70" y="891.20" font-size="12.6" text-anchor="middle" fill="#111" >-</text>
<text x="173.70" y="875.20" font-size="12.6" text-anchor="middle" fill="#111" >+</text>
<text x="173.70" y="891.20" font-size="12.6" text-anchor="middle" fill="#111" >-</text>
<text x="241.70" y="875.20" font-size="12.6" text-anchor="middle" fill="#111" >+</text>
<text x="241.70" y="891.20" font-size="12.6" text-anchor="middle" fill="#111" >+</text>
<text x="309.70" y="875.20" font-size="12.6" text-anchor="middle" fill="#111" >-</text>
<text x="309.70" y="891.20" font-size="12.6" text-anchor="middle" fill="#111" >-</text>
<text x="377.70" y="875.20" font-size="12.6" text-anchor="middle" fill="#111" >+</text>
<text x="377.70" y="891.20" font-size="12.6" text-anchor="middle" fill="#111" >-</text>
<text x="445.70" y="875.20" font-size="12.6" text-anchor="middle" fill="#111" >+</text>
<text x="445.70" y="891.20" font-size="12.6" text-anchor="middle" fill="#111" >+</text>
<line x1="93.00" y1="897.50" x2="255.30" y2="897.50" stroke="#222" stroke-width="1.2"/>
<line x1="297.30" y1="897.50" x2="460.80" y2="897.50" stroke="#222" stroke-width="1.2"/>
<text x="175.70" y="915.40" font-size="13.1" text-anchor="middle" fill="#111" >ChIP-IgG</text>
<text x="376.30" y="915.70" font-size="13.1" text-anchor="middle" fill="#111" >ChIP-JNK</text>
<text x="496.60" y="711.90" font-size="17.0" text-anchor="start" fill="#000" font-weight="bold" class="nb">h</text>
<line x1="580.50" y1="731.40" x2="580.50" y2="828.60" stroke="#1a1a1a" stroke-width="1.2"/>
<line x1="577.00" y1="828.50" x2="580.50" y2="828.50" stroke="#1a1a1a" stroke-width="1.2"/>
<text x="578.40" y="832.62" font-size="13.0" text-anchor="end" fill="#111" >0.0</text>
<line x1="577.00" y1="808.50" x2="580.50" y2="808.50" stroke="#1a1a1a" stroke-width="1.2"/>
<text x="578.40" y="813.41" font-size="13.0" text-anchor="end" fill="#111" >0.5</text>
<line x1="577.00" y1="789.50" x2="580.50" y2="789.50" stroke="#1a1a1a" stroke-width="1.2"/>
<text x="578.40" y="794.22" font-size="13.0" text-anchor="end" fill="#111" >1.0</text>
<line x1="577.00" y1="770.50" x2="580.50" y2="770.50" stroke="#1a1a1a" stroke-width="1.2"/>
<text x="578.40" y="775.01" font-size="13.0" text-anchor="end" fill="#111" >1.5</text>
<line x1="577.00" y1="751.50" x2="580.50" y2="751.50" stroke="#1a1a1a" stroke-width="1.2"/>
<text x="578.40" y="755.82" font-size="13.0" text-anchor="end" fill="#111" >2.0</text>
<line x1="577.00" y1="732.50" x2="580.50" y2="732.50" stroke="#1a1a1a" stroke-width="1.2"/>
<text x="578.40" y="736.62" font-size="13.0" text-anchor="end" fill="#111" >2.5</text>
<line x1="580.50" y1="828.50" x2="645.10" y2="828.50" stroke="#1a1a1a" stroke-width="1.2"/>
<line x1="591.50" y1="828.00" x2="591.50" y2="831.00" stroke="#1a1a1a" stroke-width="1.2"/>
<line x1="612.50" y1="828.00" x2="612.50" y2="831.00" stroke="#1a1a1a" stroke-width="1.2"/>
<line x1="633.50" y1="828.00" x2="633.50" y2="831.00" stroke="#1a1a1a" stroke-width="1.2"/>
<rect x="586.25" y="790.40" width="10.50" height="37.60" fill="#a0a0a8" />
<circle cx="588.50" cy="793.50" r="2.05" fill="#fff" stroke="#555" stroke-width="0.55"/>
<circle cx="594.50" cy="790.50" r="2.05" fill="#fff" stroke="#555" stroke-width="0.55"/>
<line x1="591.50" y1="790.40" x2="591.50" y2="787.50" stroke="#000" stroke-width="1.6"/>
<rect x="589.00" y="786.80" width="5.00" height="1.90" fill="#000" />
<rect x="607.30" y="756.90" width="10.20" height="71.10" fill="#5a55f5" />
<circle cx="612.40" cy="758.50" r="2.05" fill="#fff" stroke="#555" stroke-width="0.55"/>
<circle cx="612.40" cy="764.50" r="2.05" fill="#fff" stroke="#555" stroke-width="0.55"/>
<line x1="612.50" y1="756.90" x2="612.50" y2="748.80" stroke="#000" stroke-width="1.6"/>
<rect x="609.90" y="748.10" width="5.00" height="1.90" fill="#000" />
<rect x="628.00" y="788.20" width="10.60" height="39.80" fill="#c0c0fa" />
<circle cx="630.80" cy="780.00" r="2.05" fill="#fff" stroke="#555" stroke-width="0.55"/>
<circle cx="636.30" cy="783.00" r="2.05" fill="#fff" stroke="#555" stroke-width="0.55"/>
<circle cx="633.30" cy="800.50" r="2.05" fill="#fff" stroke="#555" stroke-width="0.55"/>
<line x1="633.50" y1="788.20" x2="633.50" y2="778.10" stroke="#000" stroke-width="1.6"/>
<rect x="630.80" y="777.40" width="5.00" height="1.90" fill="#000" />
<text x="540.50" y="777.20" font-size="12.8" text-anchor="middle" transform="rotate(-90 540.50 777.20)" fill="#111">Relative <tspan font-style="italic">Klhl25</tspan></text>
<text x="555.00" y="778.00" font-size="13.3" text-anchor="middle" transform="rotate(-90 555.00 778.00)" fill="#111" >mRNA level</text>
<line x1="592.50" y1="744.50" x2="611.00" y2="744.50" stroke="#222" stroke-width="1.1"/>
<line x1="613.80" y1="731.50" x2="632.30" y2="731.50" stroke="#222" stroke-width="1.1"/>
<text class="sm" x="586.20" y="740.60" font-size="9.4" text-anchor="start" fill="#111"><tspan font-style="italic">p</tspan>=0.0021</text>
<text class="sm" x="597.60" y="727.80" font-size="9.4" text-anchor="start" fill="#111"><tspan font-style="italic">p</tspan>=0.0028</text>
<text x="645.10" y="833.70" font-size="10.2" text-anchor="start" fill="#111"  class="sm">kDa</text>
<rect x="581.20" y="839.00" width="62.60" height="24.70" fill="#ececec" />
<g filter="url(#bl)">
<rect x="586.30" y="844.00" width="13.50" height="4.00" rx="2.00" fill="#111"/>
<rect x="605.20" y="844.00" width="15.10" height="4.00" rx="2.00" fill="#000"/>
<rect x="626.80" y="844.50" width="11.90" height="3.00" rx="1.50" fill="#6a6a6a"/>
<rect x="586.30" y="855.65" width="13.50" height="3.50" rx="1.75" fill="#bbb"/>
<rect x="605.20" y="855.65" width="15.10" height="3.50" rx="1.75" fill="#bbb"/>
<rect x="626.80" y="855.90" width="11.90" height="3.00" rx="1.50" fill="#dcdcdc"/>
</g>
<rect x="581.20" y="839.00" width="62.60" height="24.70" fill="none" stroke="#1a1a1a" stroke-width="1.2"/>
<line x1="643.70" y1="840.50" x2="648.10" y2="840.50" stroke="#222" stroke-width="1.2"/>
<text x="649.90" y="843.97" font-size="10.2" text-anchor="start" fill="#111"  class="sm">43</text>
<text x="574.00" y="855.90" font-size="13.1" text-anchor="end" fill="#111" >NF-YA</text>
<rect x="581.20" y="866.60" width="62.60" height="19.10" fill="#f0f0f0" />
<g filter="url(#bl)">
<rect x="585.90" y="874.00" width="14.10" height="5.00" rx="2.50" fill="#000"/>
<rect x="604.30" y="873.75" width="15.50" height="5.50" rx="2.75" fill="#000"/>
<rect x="624.10" y="874.00" width="15.40" height="5.00" rx="2.50" fill="#000"/>
</g>
<rect x="581.20" y="866.60" width="62.60" height="19.10" fill="none" stroke="#1a1a1a" stroke-width="1.2"/>
<line x1="643.70" y1="882.50" x2="648.10" y2="882.50" stroke="#222" stroke-width="1.2"/>
<text x="649.90" y="886.37" font-size="10.2" text-anchor="start" fill="#111"  class="sm">43</text>
<text x="573.30" y="880.70" font-size="13.1" text-anchor="end" fill="#111" >Actin</text>
<text x="575.40" y="896.30" font-size="12.6" text-anchor="end" fill="#111" >TGFβ1</text>
<text x="575.40" y="912.80" font-size="13.1" text-anchor="end" fill="#111">si<tspan font-style="italic">Nfya</tspan></text>
<text x="593.00" y="896.00" font-size="12.6" text-anchor="middle" fill="#111" >-</text>
<text x="593.00" y="912.50" font-size="12.6" text-anchor="middle" fill="#111" >-</text>
<text x="613.00" y="896.00" font-size="12.6" text-anchor="middle" fill="#111" >+</text>
<text x="613.00" y="912.50" font-size="12.6" text-anchor="middle" fill="#111" >-</text>
<text x="633.20" y="896.00" font-size="12.6" text-anchor="middle" fill="#111" >+</text>
<text x="633.20" y="912.50" font-size="12.6" text-anchor="middle" fill="#111" >+</text>
</svg>
</body></html>
